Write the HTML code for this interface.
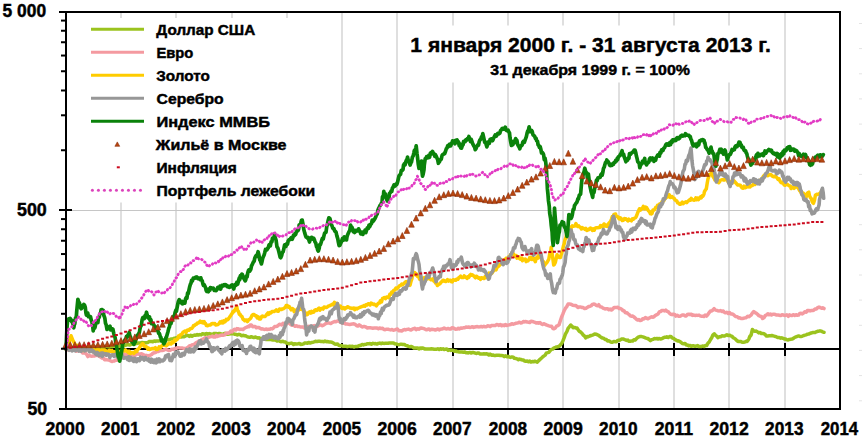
<!DOCTYPE html>
<html><head><meta charset="utf-8"><title>chart</title>
<style>html,body{margin:0;padding:0;background:#fff;width:862px;height:439px;overflow:hidden}svg{display:block}</style>
</head><body><svg width="862" height="439" viewBox="0 0 862 439"><rect x="0" y="0" width="862" height="439" fill="#fff"/><line x1="121.00" y1="12" x2="121.00" y2="408" stroke="#DFDFDF" stroke-width="2"/><line x1="176.00" y1="12" x2="176.00" y2="408" stroke="#DFDFDF" stroke-width="2"/><line x1="232.00" y1="12" x2="232.00" y2="408" stroke="#DFDFDF" stroke-width="2"/><line x1="287.00" y1="12" x2="287.00" y2="408" stroke="#DFDFDF" stroke-width="2"/><line x1="342.00" y1="12" x2="342.00" y2="408" stroke="#DFDFDF" stroke-width="2"/><line x1="397.00" y1="12" x2="397.00" y2="408" stroke="#DFDFDF" stroke-width="2"/><line x1="453.00" y1="12" x2="453.00" y2="408" stroke="#DFDFDF" stroke-width="2"/><line x1="508.00" y1="12" x2="508.00" y2="408" stroke="#DFDFDF" stroke-width="2"/><line x1="563.00" y1="12" x2="563.00" y2="408" stroke="#DFDFDF" stroke-width="2"/><line x1="619.00" y1="12" x2="619.00" y2="408" stroke="#DFDFDF" stroke-width="2"/><line x1="674.00" y1="12" x2="674.00" y2="408" stroke="#DFDFDF" stroke-width="2"/><line x1="729.00" y1="12" x2="729.00" y2="408" stroke="#DFDFDF" stroke-width="2"/><line x1="785.00" y1="12" x2="785.00" y2="408" stroke="#DFDFDF" stroke-width="2"/><line x1="66" y1="210.5" x2="840" y2="210.5" stroke="#C6C6C6" stroke-width="1"/><rect x="70" y="18" width="262" height="184.5" fill="#fff"/><rect x="400" y="25.5" width="380" height="57" fill="#fff"/><line x1="66" y1="349.00" x2="840" y2="349.00" stroke="#000" stroke-width="2"/><line x1="121.00" y1="343.00" x2="121.00" y2="356.00" stroke="#000" stroke-width="2"/><line x1="176.00" y1="343.00" x2="176.00" y2="356.00" stroke="#000" stroke-width="2"/><line x1="232.00" y1="343.00" x2="232.00" y2="356.00" stroke="#000" stroke-width="2"/><line x1="287.00" y1="343.00" x2="287.00" y2="356.00" stroke="#000" stroke-width="2"/><line x1="342.00" y1="343.00" x2="342.00" y2="356.00" stroke="#000" stroke-width="2"/><line x1="397.00" y1="343.00" x2="397.00" y2="356.00" stroke="#000" stroke-width="2"/><line x1="453.00" y1="343.00" x2="453.00" y2="356.00" stroke="#000" stroke-width="2"/><line x1="508.00" y1="343.00" x2="508.00" y2="356.00" stroke="#000" stroke-width="2"/><line x1="563.00" y1="343.00" x2="563.00" y2="356.00" stroke="#000" stroke-width="2"/><line x1="619.00" y1="343.00" x2="619.00" y2="356.00" stroke="#000" stroke-width="2"/><line x1="674.00" y1="343.00" x2="674.00" y2="356.00" stroke="#000" stroke-width="2"/><line x1="729.00" y1="343.00" x2="729.00" y2="356.00" stroke="#000" stroke-width="2"/><line x1="785.00" y1="343.00" x2="785.00" y2="356.00" stroke="#000" stroke-width="2"/><polyline fill="none" stroke="#9BC31E" stroke-width="3.5" stroke-linejoin="round" stroke-linecap="round"  points="66.0,349.0 67.3,349.3 68.9,348.5 70.2,348.6 71.6,348.9 72.9,347.9 74.5,348.3 75.9,347.7 77.2,348.5 78.5,348.6 80.1,347.4 81.2,348.0 82.8,347.7 83.9,347.7 85.2,347.4 86.6,347.7 87.9,347.3 89.2,347.5 90.6,346.9 92.1,347.5 93.4,347.0 94.8,347.7 95.9,347.0 97.4,347.4 98.8,347.0 100.1,347.2 101.3,347.0 102.8,347.3 104.0,346.9 105.2,346.4 106.8,346.6 107.9,346.7 109.4,346.7 110.6,346.4 112.0,346.7 113.3,346.2 114.7,345.7 115.9,346.4 117.5,346.2 118.6,345.7 120.0,346.6 121.4,345.8 122.7,345.3 123.9,345.9 125.3,345.2 126.5,345.1 128.0,344.2 129.3,345.0 130.6,344.7 131.9,344.2 133.2,343.9 134.3,344.2 135.8,343.2 137.1,343.4 138.3,343.0 139.7,343.1 141.1,342.8 142.2,342.4 143.6,342.7 145.1,342.8 146.4,342.7 147.6,342.6 149.0,341.6 150.2,341.4 151.7,341.5 152.8,341.8 154.2,341.0 155.5,341.4 156.8,340.9 158.3,340.9 159.5,340.8 160.7,340.5 162.1,340.0 163.3,340.7 164.8,339.7 166.1,340.2 167.2,339.0 168.6,339.7 169.9,339.4 171.4,338.9 172.7,339.1 174.2,338.2 175.4,338.0 176.8,337.6 178.2,337.3 179.5,336.6 181.1,337.0 182.3,336.8 183.7,336.8 185.2,336.1 186.4,335.5 187.9,335.4 189.3,336.4 190.6,335.3 192.0,336.2 193.3,335.4 194.5,335.1 195.8,335.3 197.2,334.6 198.4,335.0 199.8,334.6 201.1,334.9 202.6,333.7 203.8,333.9 205.3,334.3 206.5,333.5 207.9,334.2 209.3,333.6 210.6,334.0 211.8,334.4 213.0,334.1 214.3,333.4 215.9,333.5 217.1,333.9 218.5,333.6 219.6,333.5 221.1,333.9 222.5,334.3 223.6,333.9 225.0,333.2 226.4,334.2 228.0,334.2 229.2,333.9 230.7,333.7 232.0,333.5 233.2,333.7 234.9,334.3 236.3,334.4 237.4,335.0 239.0,334.3 240.3,334.7 241.5,335.8 242.9,335.3 244.5,335.7 245.6,335.7 247.0,336.6 248.3,337.0 249.8,337.3 251.3,336.7 252.5,337.1 253.8,337.6 255.1,337.0 256.8,337.6 258.0,338.0 259.3,337.8 260.8,339.1 262.2,338.3 263.4,339.1 264.9,339.3 266.2,339.5 267.5,339.5 268.9,339.3 270.2,339.4 271.8,339.8 273.1,340.1 274.6,339.9 275.7,340.0 277.1,341.0 278.6,340.6 279.8,341.3 281.3,341.7 282.5,341.3 283.9,341.7 285.4,342.0 286.6,343.1 287.8,343.4 288.9,343.7 290.0,343.4 291.3,343.1 292.4,343.4 293.5,344.5 294.7,343.7 295.6,344.1 297.0,343.9 298.1,343.8 299.4,343.5 300.6,344.4 302.1,344.3 303.4,343.9 304.7,343.1 305.9,342.9 307.4,343.3 308.6,342.4 310.2,343.1 311.4,342.5 312.9,342.2 314.1,341.9 315.5,341.3 316.9,341.6 318.3,341.2 319.6,341.3 320.9,341.4 322.5,341.6 323.7,341.8 325.0,341.1 326.5,341.7 327.9,341.6 329.3,342.0 330.5,342.1 331.9,342.3 333.3,343.1 334.8,344.0 336.0,344.2 337.3,343.9 338.8,345.3 340.0,345.7 341.6,345.6 342.9,346.3 344.2,346.3 345.7,346.2 347.1,346.7 348.5,346.4 349.6,346.2 351.0,346.7 352.5,346.2 353.9,347.1 355.1,346.5 356.4,346.4 357.7,346.4 359.3,345.6 360.5,345.6 362.1,344.4 363.4,344.9 364.7,344.4 366.0,344.3 367.5,343.7 368.8,343.7 370.0,343.6 371.4,344.3 373.0,343.3 374.3,343.7 375.5,343.6 376.9,344.1 378.3,343.4 379.7,343.1 381.2,343.7 382.6,343.1 383.8,343.4 385.2,343.3 386.5,343.3 388.1,343.3 389.5,342.9 390.7,343.1 392.1,343.0 393.4,342.9 394.7,343.8 396.1,343.9 397.5,344.4 399.0,344.7 400.2,344.3 401.7,344.3 403.0,344.6 404.4,344.5 405.7,345.4 407.0,345.7 408.5,346.4 409.8,346.7 411.1,346.5 412.3,346.9 413.9,348.0 415.3,347.9 416.5,348.0 417.7,348.0 418.9,348.9 419.9,348.0 421.3,348.5 422.5,347.9 423.8,348.5 425.1,349.0 426.4,348.9 427.8,349.0 429.0,349.0 430.3,349.0 431.6,348.7 432.8,349.1 434.2,349.3 435.4,349.3 436.7,349.2 437.8,348.8 439.2,349.6 440.4,348.8 441.8,349.2 443.0,348.8 444.2,349.6 445.5,349.2 446.8,349.0 448.1,350.4 449.4,349.9 450.7,350.4 451.8,350.1 453.3,350.4 454.3,351.3 455.7,350.9 457.0,351.6 458.2,351.7 459.6,352.0 460.8,351.9 462.0,351.9 463.3,352.3 464.8,351.9 465.8,352.8 467.3,352.8 468.3,352.9 469.8,352.4 471.0,353.0 472.4,352.5 473.6,352.6 475.0,353.0 476.2,353.5 477.4,353.1 478.7,353.0 479.9,353.9 481.2,354.0 482.4,354.1 483.9,353.8 485.0,354.0 486.4,353.8 487.5,353.9 488.9,355.0 490.1,354.1 491.5,355.2 492.9,355.0 494.0,355.4 495.2,355.4 496.5,355.2 497.9,355.3 499.0,355.2 500.5,355.6 501.7,355.5 503.0,355.7 504.2,356.6 505.6,355.7 506.8,356.8 508.0,356.3 509.3,357.1 510.5,357.4 511.9,356.9 513.3,357.2 514.3,358.3 515.6,358.4 516.9,358.8 518.4,359.7 519.4,359.1 520.9,359.5 522.0,359.9 523.3,360.0 524.7,361.0 526.0,361.3 527.2,360.9 528.5,361.8 529.8,361.1 530.9,362.1 532.3,361.5 533.6,361.8 534.9,361.2 536.1,361.6 537.3,362.2 538.7,360.6 540.0,359.4 541.3,358.2 542.4,357.2 543.7,356.1 545.2,355.1 546.2,353.2 547.7,352.7 548.8,352.3 550.0,350.8 551.4,349.4 552.7,349.1 554.1,347.8 555.3,347.4 556.6,346.9 557.7,346.8 559.2,346.2 560.3,345.1 561.7,343.4 562.8,341.2 564.1,337.9 565.4,334.2 566.9,331.5 568.1,328.4 569.4,326.7 570.7,325.0 572.0,326.2 573.1,327.7 574.5,327.4 575.6,327.9 577.0,328.0 578.2,329.9 579.4,331.4 580.8,332.1 582.0,333.4 583.3,335.1 584.6,336.2 585.8,337.9 587.1,336.6 588.3,336.7 589.7,336.0 591.1,335.5 592.4,335.1 593.7,334.6 594.7,334.0 596.1,334.2 597.5,334.8 598.7,335.3 600.1,336.6 601.2,337.4 602.6,338.1 603.7,338.3 605.1,339.4 606.4,339.6 607.5,340.9 608.7,340.8 610.1,341.6 611.3,342.2 612.7,342.2 613.8,341.4 615.3,341.8 616.4,341.7 617.6,340.5 619.2,340.3 620.3,339.8 621.6,339.1 623.0,338.9 624.2,339.4 625.6,340.0 626.8,340.4 627.9,340.1 628.8,341.2 630.1,341.3 631.3,340.9 632.7,341.0 633.9,339.8 635.2,340.0 636.3,338.8 637.7,337.5 638.8,336.9 640.3,336.5 641.6,336.6 642.8,336.9 644.0,337.2 645.4,337.9 646.5,338.2 647.8,338.5 649.1,339.5 650.4,340.6 651.6,339.7 653.1,339.4 654.2,338.5 655.5,338.7 656.9,338.5 658.2,339.0 659.4,338.4 660.6,339.1 661.8,338.7 663.1,337.9 664.4,337.3 665.7,337.3 666.8,336.8 668.2,337.5 669.6,336.6 670.9,336.4 672.1,337.8 673.4,338.3 674.7,339.2 676.0,340.0 677.3,340.9 678.3,340.8 679.9,341.6 680.9,342.2 682.3,343.5 683.6,343.7 685.0,343.4 686.2,344.9 687.5,344.9 688.7,345.9 690.2,345.4 691.3,346.3 692.6,345.8 693.8,345.8 695.1,346.3 696.5,346.1 697.7,345.6 698.9,346.6 700.2,346.6 701.6,346.4 702.9,346.0 704.0,346.5 705.2,345.6 706.6,345.6 708.0,343.1 709.1,342.2 710.4,339.7 711.7,337.7 712.9,335.1 714.3,333.8 715.6,335.4 716.7,336.2 718.1,337.7 719.5,336.7 720.6,336.8 721.9,335.8 723.1,335.9 724.5,336.1 725.7,335.4 726.9,334.8 728.2,335.5 729.5,335.2 730.8,335.8 732.1,336.3 733.3,337.8 734.7,338.5 735.8,339.4 737.3,340.9 738.6,341.6 739.7,341.6 741.0,341.6 742.2,342.2 743.5,342.2 744.9,342.0 746.2,341.3 747.3,341.4 748.8,339.1 749.8,336.5 751.1,335.0 752.4,329.5 753.8,331.0 755.0,331.2 756.3,331.1 757.5,331.9 758.8,332.9 760.2,332.4 761.3,333.5 762.6,333.4 763.9,333.7 765.1,334.5 766.5,336.1 767.8,335.9 769.1,335.8 770.4,335.7 771.8,335.6 773.0,335.8 774.3,336.2 775.6,336.4 776.8,337.1 778.0,337.5 779.3,337.6 780.7,338.2 781.8,337.8 783.1,338.3 784.3,338.9 785.7,339.1 786.9,339.7 788.2,339.9 789.4,339.4 790.8,339.2 792.0,339.1 793.4,338.4 794.5,337.5 796.0,336.8 797.3,336.3 798.6,335.9 799.9,336.5 801.0,336.4 802.2,336.2 803.6,335.5 804.8,335.2 806.1,334.8 807.5,334.2 808.6,334.1 810.1,333.4 811.2,333.0 812.6,332.6 813.9,332.4 815.1,332.5 816.3,331.8 817.5,331.3 818.8,331.2 820.0,330.8 821.3,331.2 822.7,331.8 824.0,332.3"/><polyline fill="none" stroke="#F49AA0" stroke-width="3.5" stroke-linejoin="round" stroke-linecap="round"  points="66.0,349.0 67.4,349.9 68.4,348.6 70.0,349.8 71.2,349.3 72.5,349.9 73.7,349.3 75.0,349.8 76.4,351.2 77.7,350.8 78.8,350.7 80.0,350.7 81.4,351.6 82.7,352.9 84.0,352.7 85.2,352.9 86.5,354.2 87.9,356.6 89.2,355.2 90.6,356.1 91.8,356.2 93.1,355.9 94.3,356.1 95.8,354.7 97.0,355.4 98.2,355.0 99.5,356.5 100.8,357.1 102.0,358.0 103.4,358.1 104.6,359.7 105.9,359.5 107.1,359.7 108.5,359.9 109.8,360.5 111.1,361.1 112.3,361.5 113.4,361.0 114.6,360.9 115.7,360.1 117.1,360.2 118.5,357.8 119.8,357.8 121.2,355.8 122.5,354.6 123.7,353.8 125.0,354.9 126.2,354.5 127.8,354.2 128.9,355.3 130.3,355.2 131.6,354.8 132.9,355.1 134.2,355.5 135.6,355.0 136.9,354.1 138.5,353.8 139.6,354.5 141.0,353.7 142.5,354.2 143.5,354.8 145.0,355.7 146.2,355.3 147.5,355.7 149.0,355.7 150.4,355.1 151.7,354.5 152.9,353.2 154.3,352.8 155.5,352.5 157.0,351.6 158.3,351.6 159.6,350.8 161.1,350.6 162.3,350.5 163.5,350.3 164.8,349.4 166.1,349.4 167.5,350.0 168.9,350.4 170.4,350.3 171.5,349.3 172.7,349.3 173.9,349.5 175.1,348.4 176.1,348.6 177.2,347.7 178.5,347.8 179.8,348.0 180.8,347.9 182.1,347.9 183.4,348.3 184.5,348.6 185.7,348.6 187.2,347.8 188.2,347.0 189.5,345.8 190.7,346.1 191.8,345.0 193.2,344.6 194.3,344.7 195.6,343.0 196.9,342.3 197.8,342.1 199.1,340.7 200.5,340.7 201.5,339.7 202.8,339.2 204.0,338.7 205.2,337.7 206.5,338.1 207.6,337.7 208.8,337.2 210.1,336.9 211.4,336.6 212.5,336.0 213.7,337.1 215.0,337.1 216.3,335.4 217.4,336.5 218.7,335.9 219.8,335.7 221.1,335.2 222.2,335.1 223.6,335.2 224.8,334.8 225.9,333.4 227.2,333.0 228.4,333.2 229.7,332.4 230.9,331.0 232.0,331.8 233.2,330.3 234.4,329.2 235.8,330.0 237.0,328.6 238.1,328.8 239.4,329.5 240.5,329.2 241.7,329.3 243.1,329.6 244.1,328.6 245.5,327.6 246.7,327.3 247.9,326.6 249.1,326.7 250.2,325.0 251.4,325.1 252.7,326.8 253.8,326.5 255.1,326.6 256.3,327.8 257.6,327.4 258.9,327.4 260.0,328.3 261.2,328.9 262.3,328.8 263.6,329.2 264.9,329.4 265.9,329.0 267.3,329.5 268.5,329.3 269.5,329.3 271.0,328.6 272.2,328.9 273.2,328.2 274.6,326.6 275.8,326.6 276.9,326.4 278.1,325.5 279.4,324.3 280.7,324.4 281.8,325.0 283.0,323.3 284.4,324.4 285.7,324.1 286.9,323.8 288.2,322.9 289.6,323.1 290.8,324.7 292.2,325.3 293.8,325.2 295.1,326.3 296.5,325.8 297.7,326.4 299.1,326.4 300.4,327.0 302.0,326.9 303.2,327.0 304.6,328.0 305.9,327.5 307.3,327.1 308.8,326.2 310.2,326.4 311.5,327.0 312.8,326.2 314.3,325.6 315.6,325.9 316.9,326.4 318.4,325.9 319.6,325.1 321.0,324.9 322.3,325.7 323.6,325.1 325.1,324.1 326.4,323.3 327.8,323.1 329.2,323.0 330.7,323.6 331.9,322.8 333.4,322.0 334.5,321.5 335.9,321.8 337.4,321.0 338.9,321.1 340.2,322.1 341.5,322.8 342.8,323.2 344.4,323.0 345.7,324.0 347.0,323.9 348.4,324.3 349.8,324.6 351.0,324.2 352.5,323.9 353.8,323.8 355.3,324.4 356.5,325.6 357.8,326.1 359.2,324.9 360.6,325.8 362.1,327.0 363.4,326.6 364.7,326.6 366.2,327.2 367.4,328.0 368.7,327.8 370.3,327.8 371.5,327.9 372.9,328.3 374.2,328.1 375.6,328.0 377.1,328.1 378.4,328.8 379.6,328.0 381.2,328.6 382.6,328.3 383.9,329.6 385.2,329.7 386.6,329.2 388.1,329.2 389.3,329.6 390.6,329.9 392.1,329.5 393.4,330.2 394.9,329.9 396.2,329.4 397.5,329.0 398.8,330.7 400.2,330.8 401.7,331.0 402.9,330.2 404.4,329.5 405.6,329.9 407.0,329.4 408.5,329.1 409.9,329.8 411.0,330.0 412.3,329.2 413.7,328.6 414.9,328.3 416.1,329.6 417.6,328.8 418.8,329.2 419.9,328.5 421.2,328.0 422.4,328.3 423.7,328.4 425.1,329.2 426.5,329.8 427.7,329.3 429.1,328.9 430.1,330.0 431.6,329.2 432.8,329.5 434.0,329.6 435.3,330.0 436.7,329.5 437.9,328.9 439.2,329.9 440.3,329.3 441.7,329.1 442.8,328.8 444.1,328.1 445.5,328.7 446.8,328.9 448.1,328.5 449.2,328.9 450.7,329.0 451.9,327.8 453.1,327.9 454.5,328.6 455.6,329.2 457.2,329.1 458.3,328.2 459.5,328.9 460.9,327.9 462.2,328.2 463.4,327.8 464.7,327.8 466.0,327.1 467.3,327.2 468.6,327.0 469.7,327.4 471.0,327.2 472.4,326.7 473.6,327.4 474.9,327.0 476.1,326.8 477.4,326.6 478.6,326.9 479.9,326.8 481.3,326.5 482.4,326.9 483.9,326.3 485.1,326.8 486.5,326.7 487.6,325.8 489.0,325.9 490.1,326.6 491.4,325.6 492.7,325.4 494.1,325.4 495.3,325.4 496.7,324.6 497.9,324.7 499.0,325.4 500.4,324.5 501.7,325.8 503.0,325.0 504.3,325.6 505.4,324.6 506.9,325.5 507.9,325.1 509.4,324.8 510.6,324.5 511.8,323.7 513.0,324.2 514.3,323.9 515.7,323.3 517.1,323.0 518.3,322.7 519.5,322.2 520.8,322.9 522.0,322.8 523.4,321.4 524.7,321.9 525.9,321.5 527.2,322.1 528.6,322.2 529.8,322.5 531.0,321.3 532.3,321.5 533.5,321.8 534.9,322.3 536.2,323.1 537.3,322.7 538.6,323.2 540.0,322.6 541.2,323.7 542.5,324.4 543.7,323.7 545.2,324.3 546.2,324.9 547.6,325.4 548.9,325.9 550.3,326.2 551.6,326.2 552.7,328.3 553.9,328.8 555.4,327.9 556.7,325.9 557.8,325.8 559.1,324.6 560.5,320.3 561.5,317.2 563.0,313.7 564.2,310.6 565.6,308.0 566.6,306.9 568.1,304.0 569.4,303.9 570.6,304.2 571.7,304.7 573.0,305.3 574.4,305.5 575.7,305.4 576.9,306.5 578.2,307.5 579.4,306.9 580.8,307.0 582.2,307.6 583.3,307.6 584.6,308.6 586.0,308.3 587.1,307.6 588.4,306.6 589.6,306.5 591.2,305.7 592.3,304.5 593.6,304.1 594.9,304.2 596.1,305.3 597.6,305.7 598.7,304.7 599.9,306.7 601.4,306.9 602.5,307.7 603.7,308.4 605.0,308.9 606.3,308.8 607.6,308.8 608.9,309.7 610.2,309.1 611.4,310.0 612.7,309.0 614.1,307.5 615.3,307.6 616.5,307.5 617.9,307.3 619.1,308.5 620.4,308.5 621.7,309.2 622.8,310.5 624.2,311.0 625.4,312.7 626.8,312.7 628.1,313.8 629.3,314.7 630.5,315.9 631.7,316.3 632.8,316.0 633.9,316.9 635.2,318.1 636.4,319.3 637.6,320.1 638.9,319.5 640.2,320.6 641.6,320.1 642.6,318.8 643.9,318.9 645.4,317.6 646.5,318.1 648.0,318.8 649.2,318.1 650.4,317.4 651.7,316.7 652.9,317.3 654.2,316.6 655.5,315.3 656.8,314.7 658.0,314.0 659.5,311.7 660.5,311.6 661.9,310.5 663.2,310.4 664.5,310.9 665.7,310.1 666.9,311.3 668.2,311.6 669.4,313.2 670.9,314.3 672.1,314.7 673.2,314.2 674.7,314.4 675.8,316.1 677.1,315.2 678.4,316.2 679.6,316.3 680.9,315.8 682.3,315.0 683.7,314.9 685.0,315.9 686.2,315.9 687.3,314.5 688.7,314.2 690.1,314.7 691.4,314.2 692.4,315.4 693.8,315.0 695.0,315.5 696.4,315.2 697.5,315.4 699.0,315.1 700.1,315.9 701.5,316.2 702.8,316.3 703.9,316.4 705.2,315.1 706.5,316.1 707.9,314.5 709.2,312.6 710.4,311.0 711.8,311.0 712.8,310.1 714.1,308.6 715.5,310.1 716.9,310.4 717.9,310.7 719.4,310.9 720.6,310.6 721.7,311.5 723.3,311.0 724.5,312.5 725.6,312.8 726.8,312.2 728.2,313.5 729.5,312.5 730.9,313.9 732.1,314.0 733.3,314.4 734.5,315.6 735.8,316.6 737.3,316.7 738.6,317.9 739.7,317.8 741.1,318.6 742.2,318.6 743.6,318.2 745.0,317.9 746.1,317.7 747.6,316.3 748.8,316.7 749.9,316.0 751.3,314.8 752.5,312.9 753.8,311.5 755.1,312.6 756.2,313.2 757.6,314.3 758.9,315.7 760.1,316.2 761.4,316.5 762.6,318.5 764.1,317.5 765.2,315.6 766.4,315.0 767.8,313.7 769.1,314.8 770.5,314.0 771.5,315.0 772.9,314.2 774.1,314.3 775.4,314.5 776.6,315.1 778.1,314.9 779.2,315.2 780.7,315.6 782.0,314.7 783.2,314.9 784.4,315.4 785.7,315.2 786.8,314.8 788.3,316.3 789.5,314.9 790.9,315.5 792.0,315.5 793.2,314.7 794.7,315.4 796.0,314.7 797.3,315.3 798.5,315.1 799.7,313.5 801.1,313.3 802.3,313.9 803.7,312.8 805.0,311.7 806.2,312.3 807.4,310.6 808.8,310.5 810.1,310.9 811.4,310.5 812.6,310.5 813.7,310.2 815.0,309.1 816.4,308.9 817.7,307.6 819.0,307.1 820.1,307.5 821.6,308.3 822.7,307.8 824.0,308.6"/><polyline fill="none" stroke="#FFCC00" stroke-width="3.5" stroke-linejoin="round" stroke-linecap="round"  points="66.0,349.0 66.9,347.1 68.0,345.3 69.1,341.0 69.9,340.2 71.0,335.8 72.3,338.9 73.3,341.3 74.3,342.9 75.3,345.6 76.2,346.2 77.2,345.3 78.2,347.5 79.0,346.9 80.1,348.9 81.1,350.1 82.1,350.3 83.0,350.1 84.0,350.5 85.1,348.5 85.9,348.9 87.1,349.5 88.0,349.3 89.0,349.6 90.0,350.2 91.0,351.2 92.1,351.3 93.1,351.6 94.1,349.5 95.1,351.7 96.1,350.8 97.1,349.9 98.1,351.0 98.9,349.8 100.1,352.3 100.9,351.8 102.0,350.2 102.9,351.8 104.1,350.0 105.0,350.1 106.1,350.9 107.1,352.6 108.0,352.7 108.9,350.4 110.0,350.3 110.9,351.3 112.0,350.7 112.9,352.6 113.9,352.9 115.1,351.5 116.0,351.9 117.0,352.2 118.0,352.3 119.1,351.8 119.9,352.0 120.8,350.7 121.9,351.0 122.8,349.4 123.7,350.6 124.5,351.0 125.6,349.9 126.5,351.3 127.5,351.3 128.4,352.6 129.2,351.2 130.3,353.7 131.1,352.5 132.1,352.4 132.9,352.5 133.9,353.4 134.8,352.1 135.9,350.5 136.7,351.6 137.6,349.5 138.7,348.8 139.4,347.9 140.5,345.7 141.3,344.9 142.4,343.7 143.3,344.0 144.1,346.1 145.2,346.5 145.9,346.6 146.9,347.2 147.9,349.2 148.7,348.2 149.8,349.5 150.7,349.1 151.4,348.8 152.6,348.5 153.4,348.7 154.3,348.5 155.4,347.7 156.1,349.5 157.3,349.4 158.1,349.0 159.1,346.9 160.0,348.1 160.9,346.9 161.7,346.1 162.6,345.0 163.6,345.2 164.6,344.2 165.6,345.5 166.5,345.7 167.4,344.5 168.1,344.5 169.0,343.0 170.1,343.2 171.0,344.0 172.0,342.0 172.8,343.0 173.8,342.1 174.7,339.8 175.7,340.6 176.5,339.8 177.6,339.1 178.5,336.1 179.4,337.4 180.1,334.9 181.1,334.7 182.1,333.9 183.1,332.1 183.9,331.8 184.8,331.0 186.0,332.4 186.7,330.9 187.8,329.9 188.8,330.2 189.9,329.0 190.8,328.4 191.8,328.4 192.9,327.0 193.6,325.4 194.7,325.5 195.7,324.2 196.6,324.2 197.4,322.9 198.3,323.1 199.2,322.4 200.1,321.2 201.1,322.4 202.0,321.6 203.0,322.8 204.1,321.5 205.0,323.5 205.6,323.6 206.4,325.5 207.6,325.7 208.7,325.1 209.7,324.9 210.6,324.9 211.6,323.8 212.8,323.5 213.7,323.7 214.9,323.6 215.7,325.0 216.8,324.8 218.0,324.5 219.1,323.5 220.1,321.9 221.1,322.8 222.1,321.3 223.2,322.9 224.0,320.8 225.2,321.6 226.2,319.4 227.3,320.0 228.5,318.9 229.3,317.6 230.2,316.2 231.0,315.1 232.1,313.5 233.0,311.5 233.9,311.8 234.8,309.9 235.7,309.0 236.7,306.4 237.4,310.1 238.5,311.6 239.3,314.3 240.1,314.2 241.1,316.2 242.0,316.5 243.1,319.5 243.8,319.6 244.8,320.7 245.7,319.9 246.5,319.9 247.5,321.6 248.5,319.9 249.6,319.3 250.7,318.3 251.9,315.6 253.0,314.6 254.2,314.6 255.1,315.8 256.3,315.7 257.3,318.0 258.3,316.8 259.3,318.9 260.5,318.9 261.7,316.5 262.5,316.0 263.6,316.6 264.9,316.5 265.8,315.9 266.8,314.3 268.0,312.9 268.8,314.3 270.0,312.6 271.1,312.9 272.0,311.5 273.1,311.6 274.1,311.6 275.4,310.8 276.3,309.8 277.2,311.0 278.2,311.3 279.5,309.0 280.5,309.2 281.4,309.6 282.3,308.9 283.3,308.7 284.2,308.1 285.4,307.4 286.2,305.4 287.2,305.5 288.3,307.1 289.2,306.5 290.3,308.4 291.2,309.8 292.3,308.6 293.4,309.3 294.2,311.6 295.4,310.8 296.4,310.2 297.3,309.1 298.3,310.2 299.5,309.4 300.6,308.5 301.4,309.4 302.6,309.4 303.6,310.8 304.6,311.9 305.5,312.9 306.6,314.7 307.6,314.5 308.5,312.7 309.6,311.9 310.8,313.1 311.6,311.3 312.7,312.4 313.9,312.0 314.8,310.1 315.8,309.8 316.9,310.4 317.8,309.2 319.0,308.2 320.0,310.1 321.1,308.4 322.0,308.5 323.0,309.1 324.1,307.0 325.2,307.2 326.1,307.5 327.0,307.3 328.2,306.2 329.2,305.8 330.1,305.5 331.1,304.9 332.3,304.2 333.3,305.0 334.4,302.4 335.4,303.1 336.2,303.3 337.3,303.4 338.4,306.5 339.4,307.2 340.5,306.1 341.6,308.2 342.7,308.5 343.6,307.5 344.7,309.0 345.7,307.7 346.7,307.9 347.5,306.7 348.5,307.1 349.6,307.9 350.8,308.1 351.7,308.5 352.7,308.2 353.9,308.1 354.7,309.6 355.9,308.3 356.8,308.9 357.9,308.2 358.8,307.8 360.0,307.2 360.9,307.0 361.9,306.5 362.9,306.2 363.8,305.6 364.9,306.2 365.9,304.7 367.0,305.1 368.2,303.7 369.1,304.1 370.1,305.0 371.1,303.1 372.2,303.6 373.3,304.5 374.2,304.0 375.4,305.0 376.4,305.8 377.5,304.3 378.3,303.2 379.5,303.1 380.4,300.7 381.5,302.0 382.5,298.4 383.4,298.1 384.4,297.5 385.4,298.6 386.7,296.9 387.7,297.1 388.7,297.7 389.8,294.2 390.6,294.5 391.8,292.0 392.7,292.8 393.7,290.4 394.8,290.0 395.9,288.0 396.9,288.7 398.0,287.6 399.0,286.4 399.9,285.4 401.0,285.3 401.8,284.0 403.0,284.6 404.0,283.6 405.0,282.4 406.0,281.6 407.0,283.0 408.1,281.9 408.9,284.5 410.0,285.3 411.0,281.3 411.8,279.2 412.5,275.4 413.3,272.6 414.4,272.4 415.1,273.0 415.8,275.0 416.7,274.0 417.6,276.5 418.7,275.8 419.5,279.2 420.4,279.0 421.4,280.5 422.4,280.2 423.4,278.3 424.2,277.7 425.4,277.5 426.1,279.4 427.1,278.9 428.1,277.4 429.0,278.8 430.1,278.8 431.0,279.8 431.8,279.6 432.8,278.8 433.8,281.2 434.7,281.3 435.5,283.1 436.5,283.3 437.3,285.5 438.1,284.9 439.2,283.9 440.1,283.7 440.9,282.3 442.0,281.6 442.8,280.5 443.7,280.2 444.8,281.3 445.7,281.5 446.5,280.9 447.5,279.7 448.6,281.2 449.5,280.2 450.5,280.2 451.5,281.7 452.3,281.9 453.2,279.8 454.3,279.9 455.1,280.3 455.9,280.2 456.9,278.9 457.9,279.2 458.9,277.6 459.6,277.2 460.6,276.1 461.4,277.4 462.5,277.5 463.5,277.5 464.2,275.9 465.1,276.9 466.1,277.4 467.0,278.4 467.8,276.9 468.9,277.4 469.6,275.5 470.7,274.4 471.4,275.3 472.4,274.8 473.2,275.4 474.3,276.5 475.3,277.8 476.2,276.3 476.9,276.5 477.9,277.5 478.7,278.3 479.6,277.9 480.5,279.4 481.5,277.8 482.3,278.0 483.4,278.4 484.4,278.5 485.1,276.6 486.2,277.5 487.1,276.8 488.1,274.6 489.0,273.1 490.1,274.6 491.2,272.7 492.0,273.1 493.1,271.4 494.0,270.3 494.9,268.6 496.1,269.8 497.0,267.4 498.0,266.6 499.1,265.8 500.1,264.1 500.9,264.1 502.0,263.9 503.1,263.1 504.0,259.8 505.0,260.1 506.0,258.4 507.1,259.1 507.8,257.7 508.8,256.6 509.9,257.0 510.8,254.3 511.8,253.5 512.6,254.5 513.4,253.7 514.5,256.1 515.2,255.4 516.1,255.4 517.0,258.2 517.9,256.8 518.8,256.8 519.9,259.0 520.9,259.2 521.8,258.0 522.5,260.7 523.4,259.1 524.4,259.4 525.3,259.0 526.1,261.6 527.0,261.0 527.9,260.8 529.0,259.4 529.8,257.4 530.9,257.3 531.6,259.4 532.7,257.8 533.6,259.6 534.4,258.9 535.3,261.7 536.2,258.3 537.0,257.1 538.0,258.1 538.9,255.0 540.0,256.0 541.0,256.1 541.7,260.0 542.7,261.3 543.5,261.6 544.5,265.5 545.4,264.2 546.2,263.3 547.0,262.4 548.0,260.7 548.8,259.2 549.7,253.9 550.6,252.2 551.2,247.3 552.0,252.8 553.0,259.8 553.7,265.1 554.3,264.5 555.4,262.2 556.2,258.4 557.1,254.7 557.9,256.2 558.6,257.2 559.5,257.5 560.4,257.6 561.4,253.9 562.5,250.3 563.5,245.6 564.1,244.1 564.9,240.0 565.9,237.8 566.8,233.7 567.6,235.9 568.6,236.1 569.5,238.6 570.6,232.1 571.4,226.8 572.2,225.8 573.3,226.3 574.0,226.0 575.0,225.9 576.0,223.5 576.9,225.9 577.8,226.5 578.8,225.9 579.5,226.9 580.5,227.3 581.5,229.0 582.4,227.6 583.2,228.6 584.2,228.5 585.0,229.4 585.9,228.4 586.9,230.5 587.8,229.8 588.8,229.8 589.7,228.5 590.6,228.0 591.6,228.9 592.4,230.4 593.2,228.9 594.3,230.2 595.0,228.2 596.0,227.7 597.0,227.7 597.7,227.8 598.7,227.4 599.7,227.6 600.5,225.6 601.6,226.7 602.3,225.6 603.4,226.6 604.1,224.0 605.1,225.1 606.2,226.1 606.9,225.1 607.9,226.3 608.7,223.4 609.6,222.5 610.5,221.6 611.5,219.1 612.3,216.6 613.2,217.1 613.9,214.5 614.8,214.3 615.6,214.0 616.3,216.6 617.1,216.5 618.1,216.9 619.0,218.9 619.9,219.1 620.6,217.9 621.5,219.1 622.3,220.6 623.3,220.4 624.4,218.6 625.3,219.3 626.0,218.8 626.9,219.8 627.9,221.0 628.9,219.2 629.7,220.3 630.5,220.2 631.4,220.8 632.4,218.9 633.3,219.3 634.3,218.3 635.3,217.8 636.1,216.8 636.8,215.2 637.7,212.6 638.6,210.8 639.5,208.7 640.5,210.1 641.4,208.7 642.2,208.8 643.3,206.4 644.1,208.6 644.9,208.9 645.7,207.1 646.7,207.8 647.6,209.6 648.3,210.6 649.5,211.6 650.3,213.7 651.2,213.9 652.1,213.4 652.9,210.1 654.0,210.0 654.7,209.5 655.8,207.2 656.8,207.3 657.6,205.2 658.3,205.5 659.5,204.0 660.3,203.9 661.1,203.3 662.1,201.6 662.9,201.1 663.8,200.6 664.7,198.8 665.6,198.2 666.7,196.7 667.4,197.0 668.4,196.4 669.3,194.7 670.3,197.5 671.3,197.1 672.1,196.6 672.9,197.9 674.0,198.1 675.0,200.0 675.7,200.3 676.8,201.0 677.6,202.8 678.4,203.0 679.6,204.2 680.4,204.3 681.1,203.5 682.3,202.0 683.1,203.7 683.9,203.0 684.8,202.5 685.7,201.9 686.7,202.6 687.7,201.4 688.6,200.8 689.5,199.8 690.4,200.2 691.2,198.4 692.1,199.5 693.0,199.8 694.0,200.3 695.0,199.7 695.8,197.9 696.7,199.7 697.7,198.0 698.4,199.7 699.5,198.1 700.5,196.9 701.3,197.9 702.2,195.8 702.9,196.2 703.9,194.2 704.5,191.5 705.6,189.8 706.3,188.9 707.2,183.3 708.0,178.8 708.7,176.9 709.5,174.4 710.5,174.3 711.4,172.9 712.3,175.2 713.2,176.9 714.1,178.1 714.9,180.0 716.0,180.3 716.8,181.1 717.7,181.5 718.8,182.7 719.8,181.4 720.5,180.1 721.5,179.9 722.5,179.5 723.5,180.1 724.4,180.1 725.4,179.0 726.2,177.8 727.3,179.8 728.1,181.9 729.2,182.0 730.1,181.6 731.2,181.4 731.9,183.3 732.8,181.7 733.8,180.7 734.9,181.8 735.6,182.6 736.5,183.8 737.7,185.0 738.4,185.0 739.4,185.1 740.3,185.3 741.2,186.7 742.1,187.9 743.1,188.2 744.1,186.2 745.2,187.7 746.2,187.4 747.1,186.0 748.2,186.9 749.2,185.4 750.0,186.9 751.2,185.7 752.2,185.6 753.1,184.8 754.1,183.2 755.0,184.5 756.0,183.3 757.0,182.5 758.1,183.0 759.2,181.8 760.0,181.0 761.0,179.5 762.1,179.2 763.0,176.8 764.0,175.5 765.1,174.5 766.2,175.3 767.1,174.9 768.0,175.7 769.2,174.7 770.2,174.5 771.0,174.7 772.0,175.9 773.1,176.5 774.0,176.8 775.1,176.1 776.1,177.0 777.0,177.8 778.1,179.4 779.1,178.9 780.1,181.3 781.1,182.6 781.9,182.9 783.2,182.1 784.1,185.1 785.1,185.2 786.3,184.4 787.1,184.2 788.3,185.1 789.2,185.8 790.4,186.0 791.1,188.5 792.2,187.7 793.5,187.1 794.2,188.3 795.3,186.2 796.5,185.9 797.5,187.4 798.4,188.3 799.5,190.4 800.5,191.4 801.3,193.2 802.4,193.9 803.3,193.1 804.1,194.1 805.0,196.8 806.1,197.3 806.9,194.1 807.8,192.8 808.8,192.2 809.5,195.8 810.4,197.6 811.3,198.7 812.3,202.0 813.5,203.3 814.5,200.2 815.4,195.2 816.6,194.3 817.7,194.4 818.5,194.1 819.5,193.7 820.7,192.3 821.7,190.8"/><polyline fill="none" stroke="#979797" stroke-width="3.6" stroke-linejoin="round" stroke-linecap="round"  points="66.0,349.0 66.7,347.5 67.5,347.8 68.2,348.7 69.2,350.3 69.9,348.1 70.6,348.3 71.2,347.7 72.0,350.9 73.0,350.4 73.7,348.1 74.3,349.8 75.2,350.7 76.0,347.8 76.7,350.1 77.4,348.3 78.1,348.1 79.0,351.1 79.6,349.0 80.4,350.1 81.2,351.2 81.8,349.7 82.6,349.8 83.2,349.4 84.1,348.5 84.7,350.8 85.5,350.5 86.4,349.8 87.3,349.4 87.9,349.5 88.8,349.8 89.5,351.7 90.3,351.1 91.2,349.4 91.8,350.0 92.8,351.8 93.4,351.0 94.2,351.8 94.9,353.0 96.0,354.3 96.7,354.7 97.3,352.4 98.4,354.6 99.0,355.6 99.8,355.4 100.5,353.2 101.4,353.1 102.2,356.4 102.9,353.0 103.7,353.7 104.7,354.6 105.3,353.8 106.3,355.2 106.9,354.0 107.7,354.5 108.6,354.4 109.1,355.6 109.9,357.4 110.5,355.6 111.4,355.0 112.2,355.2 112.7,354.8 113.3,354.8 114.1,356.5 115.1,355.1 115.6,354.3 116.5,354.3 117.3,356.9 118.1,354.0 119.1,356.0 119.9,355.6 120.7,356.7 121.4,357.1 122.1,354.8 122.8,357.9 123.8,358.2 124.5,357.5 125.4,357.7 126.2,357.6 126.9,358.5 127.6,359.7 128.6,356.8 129.4,360.5 130.2,357.3 130.9,357.8 131.7,360.0 132.1,358.3 133.0,360.0 133.7,361.5 134.3,358.2 135.2,358.4 135.9,359.0 136.6,361.7 137.3,360.5 138.0,358.9 138.7,359.2 139.5,360.6 140.0,359.4 140.6,357.2 141.5,358.7 142.3,358.9 142.8,357.7 143.8,358.6 144.3,360.1 145.4,357.5 146.1,358.9 146.9,359.0 147.5,359.9 148.6,358.8 149.1,361.1 150.0,360.7 150.6,362.1 151.4,359.2 152.2,359.8 152.7,362.3 153.4,362.3 154.1,362.6 154.8,360.0 155.6,360.8 156.3,362.8 157.1,359.2 157.7,361.0 158.4,361.5 159.2,358.9 159.8,361.7 160.5,361.2 161.4,360.5 162.1,360.2 162.7,360.9 163.4,360.5 164.1,359.9 164.9,358.5 165.5,356.2 166.3,356.6 167.0,355.3 167.6,354.9 168.5,354.6 169.3,358.0 170.0,360.5 170.8,358.5 171.5,360.7 172.2,358.6 172.9,356.2 173.5,354.3 174.5,356.5 175.1,355.5 175.8,352.2 176.3,352.6 176.8,353.1 177.4,352.0 177.9,351.9 178.8,353.3 179.6,354.8 180.2,356.2 181.0,356.1 181.9,355.9 182.5,353.5 183.3,354.3 184.3,354.8 185.0,352.3 185.9,351.2 186.6,349.6 187.3,351.0 188.3,350.6 188.9,351.9 189.8,348.9 190.4,352.0 191.5,351.8 192.2,349.5 192.8,349.3 193.6,351.8 194.6,350.2 195.2,347.1 196.0,348.8 196.7,347.1 197.7,345.2 198.6,343.0 199.2,341.6 199.8,340.9 200.6,340.9 201.3,344.0 202.1,343.3 202.9,342.4 203.6,343.0 204.4,341.8 205.1,341.5 205.8,340.7 206.5,338.9 207.4,341.6 207.9,341.8 209.0,343.6 209.6,346.6 210.5,346.7 211.2,348.5 211.9,351.6 212.6,351.4 213.4,347.8 214.4,349.8 215.0,348.3 215.9,348.4 216.5,348.3 217.5,347.3 218.2,349.4 218.8,350.4 219.7,350.7 220.2,352.1 221.1,352.2 221.8,353.8 222.6,349.9 223.4,350.0 224.3,350.9 224.9,351.2 225.8,348.4 226.6,349.9 227.4,349.3 228.1,348.1 228.9,346.9 229.8,345.7 230.3,346.6 231.2,345.4 232.0,343.7 232.7,342.7 233.7,345.5 234.4,342.1 235.3,344.4 235.9,340.9 236.8,342.9 237.5,340.2 238.4,341.1 239.1,342.5 239.8,346.2 240.7,346.9 241.4,346.1 242.2,345.7 243.0,350.2 243.8,350.5 244.4,350.6 245.2,351.3 245.9,350.0 246.5,353.5 247.4,350.0 248.1,349.4 248.8,350.0 249.4,348.1 250.1,346.5 250.8,346.3 251.7,349.4 252.4,349.5 253.2,351.0 254.0,348.2 254.8,352.1 255.8,352.6 256.4,349.8 257.1,351.3 258.1,350.4 258.6,353.1 259.3,353.8 259.9,348.0 260.6,345.0 261.1,340.5 261.9,339.6 262.6,339.4 263.5,336.9 264.2,337.0 265.1,339.1 265.9,336.4 266.8,335.3 267.4,338.1 268.4,336.9 269.2,334.4 269.9,336.8 270.6,337.2 271.2,334.6 272.0,335.5 272.9,336.3 273.6,337.6 274.6,338.1 275.1,336.3 275.9,337.2 276.8,337.5 277.6,338.6 278.4,338.8 279.3,335.6 280.0,337.4 280.7,332.9 281.5,335.0 282.4,334.6 283.1,330.3 283.5,331.5 284.1,328.0 284.7,327.4 285.4,325.5 286.0,322.0 286.9,322.8 287.5,318.6 288.1,318.4 289.0,319.0 289.7,320.0 290.2,321.2 291.0,322.0 291.7,320.6 292.3,324.4 292.9,319.8 293.7,319.0 294.5,317.3 295.3,315.0 295.9,315.2 296.7,314.5 297.5,310.1 298.0,309.3 298.8,306.7 299.6,304.2 300.1,302.0 300.9,301.9 301.6,298.3 302.3,303.8 302.8,308.4 303.7,309.4 304.5,317.7 305.1,322.4 305.8,326.2 306.6,334.9 307.2,332.0 307.9,331.5 308.8,330.9 309.3,327.7 309.9,326.8 310.8,326.6 311.3,325.9 311.9,326.7 312.9,327.1 313.5,330.5 314.2,328.5 314.9,332.1 315.6,327.1 316.0,326.6 316.9,325.6 317.4,324.8 318.3,323.2 318.9,321.4 319.6,318.7 320.2,318.1 320.8,319.6 321.6,317.2 322.2,317.3 322.9,316.6 323.6,318.7 324.3,318.8 325.1,318.4 325.7,319.0 326.5,320.4 327.1,320.2 327.9,318.0 328.5,317.8 329.3,315.6 330.0,312.1 330.8,313.3 331.4,313.7 332.0,310.6 332.7,309.9 333.4,309.2 334.0,309.1 334.7,307.9 335.5,306.8 336.2,307.8 336.8,307.1 337.4,303.5 338.3,307.8 338.8,315.5 339.5,319.3 340.3,318.5 340.9,322.2 341.6,320.3 342.3,323.0 342.9,320.0 343.7,319.5 344.2,318.6 345.1,319.7 345.8,319.1 346.5,317.2 347.1,317.3 347.7,315.0 348.6,314.7 349.2,315.0 349.9,314.6 350.5,312.6 351.2,313.6 351.8,314.3 352.5,315.4 353.4,317.0 354.0,315.3 354.6,317.5 355.1,317.6 355.7,317.7 356.7,317.8 357.4,316.7 358.1,316.6 359.0,315.9 359.7,317.1 360.4,314.7 361.1,316.7 362.0,315.8 362.7,312.9 363.6,314.5 364.4,311.7 365.2,312.3 365.9,311.4 366.6,311.1 367.6,310.6 368.4,310.3 369.0,311.0 369.8,312.7 370.7,312.9 371.6,313.7 372.3,314.8 373.1,314.4 373.7,314.1 374.6,315.6 375.4,316.0 376.1,314.6 376.9,314.9 377.7,315.4 378.3,318.8 379.2,315.2 379.6,315.9 380.5,312.2 381.2,313.7 381.8,310.3 382.4,308.3 383.2,310.2 384.1,307.7 384.9,306.4 385.6,306.2 386.2,305.6 387.2,305.0 387.7,305.4 388.6,305.1 389.4,304.4 390.3,301.9 391.0,299.9 391.6,298.7 392.6,298.4 393.3,299.3 394.0,295.6 394.7,295.6 395.5,293.5 396.4,295.1 397.2,295.4 397.9,294.8 398.7,292.8 399.5,294.1 400.0,290.7 400.8,291.3 401.8,291.0 402.5,289.7 403.2,288.6 404.0,288.1 404.6,287.9 405.5,289.1 406.2,288.7 407.1,285.1 407.8,285.7 408.6,282.4 409.2,279.5 410.0,277.4 410.6,277.5 411.5,273.4 412.1,272.5 412.8,265.2 413.4,258.5 414.2,259.4 414.7,258.6 415.5,255.7 416.2,253.7 416.8,255.1 417.4,258.3 418.3,261.4 419.0,264.4 419.7,271.0 420.2,273.9 421.0,276.5 421.7,284.4 422.5,289.0 423.1,285.4 423.9,284.4 424.7,281.9 425.2,281.4 426.1,278.5 426.8,277.0 427.3,275.1 428.1,277.1 428.8,277.3 429.4,275.2 430.2,272.3 430.7,272.7 431.5,271.5 432.0,269.8 432.7,268.0 433.4,270.4 434.2,273.5 434.7,276.4 435.6,278.5 436.1,281.8 436.9,279.3 437.6,278.5 438.4,278.1 439.0,276.6 439.6,276.6 440.4,276.7 440.8,272.2 441.7,271.7 442.3,269.6 443.0,268.7 443.7,266.3 444.4,268.9 445.2,267.2 445.9,265.5 446.5,266.1 447.1,265.3 447.8,264.1 448.5,263.9 449.1,262.9 450.0,259.7 450.7,263.0 451.5,267.9 452.1,268.0 452.9,269.3 453.7,264.8 454.1,265.3 455.0,265.8 455.6,265.4 456.4,264.6 457.0,261.5 457.7,262.6 458.4,259.8 458.9,259.8 459.7,259.2 460.4,259.3 461.3,257.2 461.9,260.0 462.5,262.7 463.3,264.4 463.9,264.1 464.8,266.2 465.4,266.9 466.0,266.1 466.7,263.2 467.4,262.5 468.1,262.5 468.8,263.9 469.6,264.8 470.1,265.4 470.9,267.0 471.5,266.2 472.3,265.0 472.8,265.6 473.6,266.0 474.3,263.2 475.0,264.2 475.8,266.4 476.3,265.4 477.1,266.6 477.7,267.1 478.5,269.9 479.2,269.8 479.9,268.4 480.6,268.6 481.0,270.1 481.7,269.7 482.5,269.5 483.1,270.6 484.0,269.7 484.5,271.4 485.1,271.2 485.8,272.6 486.6,274.7 487.2,275.7 488.0,277.2 488.5,279.2 489.3,278.3 489.8,275.6 490.6,274.3 491.4,272.8 492.0,272.2 492.6,271.3 493.4,268.8 494.0,265.4 494.7,266.2 495.4,266.0 496.1,264.2 497.0,262.9 497.7,262.1 498.3,257.7 498.9,257.3 499.6,260.1 500.5,259.2 501.1,259.9 502.0,263.2 502.4,261.0 503.1,264.7 503.8,263.6 504.7,262.5 505.3,262.5 506.0,262.3 506.5,263.3 507.3,262.9 508.0,262.1 508.7,257.4 509.2,259.6 510.1,257.4 510.8,254.4 511.5,254.2 511.9,252.4 512.9,251.1 513.5,247.8 514.1,248.1 514.8,248.0 515.5,245.1 516.2,243.7 516.9,240.8 517.5,240.8 518.2,238.4 518.9,240.2 519.6,238.8 520.5,241.3 521.3,242.4 522.0,247.6 522.8,248.9 523.5,249.8 524.4,249.0 525.0,246.6 525.8,249.6 526.6,251.0 527.4,253.4 528.2,252.3 528.7,253.4 529.4,250.5 530.2,250.4 530.9,250.4 531.6,248.6 532.1,251.1 532.8,253.8 533.5,255.2 534.1,254.5 534.9,253.7 535.6,252.1 536.2,248.0 536.8,245.3 537.6,245.3 538.2,246.4 538.9,250.4 539.6,251.8 540.2,254.1 540.9,253.4 541.8,258.6 542.5,262.8 543.3,266.7 544.0,269.1 544.9,270.7 545.7,275.3 546.5,273.9 547.1,275.8 547.8,278.5 548.8,275.3 549.5,276.1 550.3,273.9 550.8,279.4 551.7,283.4 552.5,289.4 553.3,292.6 553.9,290.9 554.8,292.1 555.3,293.0 556.0,288.9 556.7,288.8 557.3,285.4 558.0,283.4 558.9,283.5 559.5,283.1 560.0,279.4 560.9,278.3 561.6,276.4 562.3,275.1 562.8,272.5 563.4,266.9 563.9,266.6 564.6,264.3 565.1,262.6 565.7,256.4 566.3,253.7 566.7,247.9 567.5,246.2 568.1,245.3 568.7,242.1 569.4,240.4 570.4,230.0 571.0,230.1 571.8,232.8 572.3,235.1 572.9,234.4 573.6,239.0 574.3,240.1 575.0,239.9 575.6,243.2 576.4,245.0 577.2,244.9 577.8,246.1 578.5,248.8 579.1,246.9 580.0,250.0 580.5,250.3 581.1,249.7 582.1,250.3 582.8,251.5 583.4,247.1 584.0,246.9 584.8,243.4 585.5,241.6 586.1,237.6 587.0,239.4 587.6,240.2 588.3,242.0 588.9,240.0 589.5,243.0 590.3,243.8 591.0,244.5 591.6,246.7 592.4,250.6 592.9,248.9 593.7,250.2 594.5,245.5 595.1,245.5 595.9,244.3 596.5,244.2 597.3,242.6 598.0,241.5 598.6,239.4 599.2,237.6 600.0,237.3 600.7,235.3 601.3,233.4 601.9,234.6 602.7,233.1 603.4,229.5 604.0,231.1 604.8,233.1 605.3,233.1 606.1,233.8 606.8,233.9 607.4,233.5 608.1,231.3 609.1,230.6 609.8,227.6 610.7,226.8 611.4,224.3 612.0,222.4 612.7,218.9 613.5,216.3 614.4,219.3 615.1,222.7 615.9,227.8 616.6,226.2 617.1,226.4 617.8,229.4 618.5,227.7 619.4,226.9 619.9,227.6 620.5,230.2 621.4,229.9 622.0,232.2 622.8,232.3 623.4,236.6 624.2,238.1 624.9,239.3 625.6,238.3 626.4,236.2 627.0,235.7 627.7,233.1 628.3,233.4 629.1,233.3 629.7,233.2 630.5,230.5 631.2,229.5 631.8,232.1 632.5,229.5 633.1,228.4 634.0,229.3 634.6,228.2 635.2,229.3 636.0,227.8 636.6,227.7 637.2,224.9 638.0,225.5 638.7,225.0 639.3,221.6 640.0,223.3 640.6,220.1 641.4,218.5 641.9,218.8 642.7,220.2 643.3,221.5 644.0,220.5 644.7,220.7 645.5,223.6 646.1,221.2 647.0,224.9 647.5,224.0 648.3,224.5 648.9,225.0 649.5,224.7 650.2,224.1 650.9,227.1 651.7,224.8 652.3,227.9 653.1,224.0 653.6,224.1 654.3,221.6 655.1,218.2 655.6,217.6 656.3,215.5 657.1,213.4 657.8,212.5 658.4,211.2 659.0,207.0 659.7,205.6 660.6,206.8 661.3,203.7 662.0,204.4 662.7,202.7 663.3,198.7 663.9,198.8 664.6,199.1 665.4,197.1 666.2,194.2 666.8,192.3 667.5,190.9 668.1,188.3 669.0,185.3 669.5,184.9 670.3,181.5 671.1,183.7 671.9,183.8 672.5,183.9 673.4,185.4 674.0,187.7 674.9,187.2 675.8,189.1 676.3,190.1 677.1,192.8 678.0,191.1 678.3,192.5 679.0,190.2 679.5,188.6 680.2,186.3 681.1,182.4 681.8,176.2 682.5,174.2 683.1,171.1 683.8,170.3 684.3,169.1 685.0,164.2 685.7,164.0 686.3,160.4 686.8,161.6 687.6,160.6 688.4,156.9 689.0,155.0 689.7,153.8 690.5,149.9 691.0,148.1 691.4,152.9 692.0,160.8 692.6,166.0 693.5,170.4 694.2,174.9 694.8,179.6 695.5,178.5 696.4,177.3 697.0,173.0 697.8,171.9 698.6,171.3 699.1,174.5 699.9,172.8 700.7,173.6 701.4,174.2 702.1,173.7 702.6,170.7 703.4,169.4 704.0,167.0 704.6,164.9 705.3,165.2 706.2,163.9 706.7,160.9 707.6,160.0 708.1,157.1 708.8,159.0 709.3,159.6 709.9,159.5 710.7,161.4 711.5,161.8 712.4,164.7 713.0,166.6 713.7,166.8 714.4,171.3 715.2,174.9 715.6,179.2 716.4,181.9 717.1,180.1 717.6,177.0 718.4,176.2 719.2,174.8 720.1,172.4 720.8,172.1 721.4,174.4 722.3,172.3 723.0,175.1 723.7,175.2 724.4,176.1 725.3,174.0 726.0,175.7 726.9,178.0 727.7,176.5 728.2,180.8 728.8,183.2 729.4,184.5 730.1,186.5 730.9,182.8 731.5,183.6 732.4,181.1 733.0,176.7 733.8,176.2 734.6,173.0 735.3,175.1 736.2,172.0 736.8,174.7 737.7,173.0 738.2,173.3 739.1,174.1 739.8,173.3 740.7,175.4 741.2,176.8 742.0,175.7 742.8,176.1 743.7,178.9 744.3,181.0 745.1,178.3 745.9,179.2 746.5,181.9 747.4,184.1 748.2,181.9 748.8,182.4 749.6,182.9 750.4,180.7 751.1,181.4 751.7,181.5 752.7,181.0 753.5,178.8 754.1,180.9 754.8,182.0 755.5,179.6 756.3,182.7 757.0,182.1 757.7,183.7 758.7,180.3 759.4,184.0 760.1,181.0 760.9,181.6 761.6,178.9 762.3,180.8 763.1,178.7 763.9,177.1 764.7,177.0 765.2,175.1 766.0,173.1 767.0,172.8 767.5,171.7 768.1,170.2 768.9,167.1 769.4,168.4 770.2,166.3 770.8,169.9 771.5,170.4 772.5,171.0 773.1,171.0 773.8,170.6 774.7,170.2 775.4,170.3 776.2,172.7 776.7,173.8 777.6,173.1 778.3,172.8 779.3,170.2 779.9,170.6 780.6,172.0 781.4,171.8 782.0,172.8 782.7,176.5 783.4,176.3 784.2,180.3 784.7,180.4 785.6,182.1 786.1,179.7 786.9,180.1 787.4,177.3 788.1,178.0 788.9,177.5 789.5,179.1 790.3,178.8 790.9,180.6 791.6,181.9 792.2,181.0 793.0,181.4 793.6,184.3 794.4,184.3 795.2,182.9 795.8,184.7 796.5,182.5 796.9,184.8 797.7,182.6 798.5,185.5 799.2,183.8 799.9,186.4 800.5,190.0 801.2,190.9 801.9,194.7 802.6,195.2 803.3,196.6 803.8,199.3 804.7,200.1 805.3,200.2 806.0,199.4 806.6,200.7 807.2,202.1 808.1,201.9 808.7,206.7 809.5,205.5 810.2,210.4 810.7,209.5 811.4,211.7 812.1,213.9 812.8,212.9 813.6,212.5 814.3,213.1 814.8,212.3 815.6,210.2 816.3,208.9 816.8,210.0 817.7,209.6 818.3,207.4 819.1,204.7 819.5,199.4 820.4,196.3 820.9,194.4 821.7,190.1 822.4,188.3 823.2,192.8 823.7,198.3"/><polyline fill="none" stroke="#0A820A" stroke-width="3.7" stroke-linejoin="round" stroke-linecap="round"  points="66.0,349.0 66.8,330.9 67.6,319.7 68.2,320.1 68.7,318.8 69.7,320.0 70.3,318.4 70.8,319.5 71.5,321.2 72.0,320.4 72.7,323.6 73.3,324.3 73.8,327.8 74.4,324.4 74.8,323.8 75.5,317.9 76.3,317.0 76.7,311.4 77.4,304.3 77.9,299.3 78.7,302.3 79.4,302.6 79.9,305.0 80.5,307.5 81.2,308.7 81.8,308.0 82.5,305.7 83.3,305.4 83.8,304.4 84.6,305.2 85.3,307.4 85.9,312.9 86.4,315.0 87.1,314.5 87.7,312.9 88.4,316.6 89.1,316.2 90.0,317.3 90.5,316.7 91.2,320.0 91.8,321.6 92.7,326.3 93.2,330.9 93.8,327.3 94.6,328.2 95.1,327.0 95.8,323.4 96.4,321.7 97.0,320.5 97.9,322.5 98.4,317.8 99.3,317.3 99.8,313.9 100.5,313.8 101.1,309.9 101.7,309.5 102.3,309.8 103.2,310.3 103.8,315.4 104.4,316.7 104.9,318.5 105.5,323.2 106.2,324.9 107.0,329.5 107.8,327.8 108.4,328.7 109.2,326.9 110.0,326.2 110.7,330.0 111.6,329.2 112.2,328.8 112.9,329.1 113.8,333.6 114.3,335.6 115.1,337.4 115.6,341.3 116.2,344.6 116.7,347.4 117.5,351.7 118.1,356.0 119.0,358.0 119.7,361.2 120.5,357.1 121.3,353.1 122.1,348.5 122.8,343.3 123.6,342.8 124.2,341.5 125.1,339.7 125.8,339.4 126.4,336.5 127.0,337.0 127.9,335.0 128.5,335.2 129.2,332.5 129.9,335.8 130.5,337.0 131.2,340.2 131.9,341.8 132.4,340.6 133.2,343.4 133.8,344.4 134.6,342.9 135.3,341.7 135.8,339.6 136.6,337.9 137.2,335.5 138.0,334.8 138.7,333.5 139.3,332.7 140.0,328.7 140.7,326.3 141.3,325.4 142.1,319.8 142.8,317.6 143.6,317.4 144.3,318.6 145.1,315.5 145.9,315.2 146.5,312.2 147.2,315.1 148.1,317.9 148.7,316.9 149.5,316.8 150.0,320.3 150.9,319.7 151.6,323.7 152.3,323.0 153.0,323.6 153.9,325.0 154.7,328.0 155.3,326.4 156.1,328.2 156.7,328.4 157.5,330.0 158.1,331.4 158.7,333.4 159.5,333.6 160.4,337.1 160.9,337.4 161.6,340.8 162.5,340.0 163.0,341.5 163.9,343.8 164.5,342.7 165.2,341.3 165.9,337.7 166.6,336.5 167.3,334.0 167.9,332.0 168.7,328.6 169.5,326.8 170.1,322.8 170.9,323.6 171.8,320.6 172.2,319.8 173.1,317.4 173.9,316.0 174.5,315.7 175.1,312.3 175.9,310.2 176.4,311.3 177.0,308.1 177.9,303.4 178.4,301.6 179.3,299.6 179.9,301.7 180.6,301.4 181.2,302.8 182.1,301.4 182.6,303.8 183.4,302.7 183.9,302.5 184.9,303.1 185.5,299.1 186.2,297.6 186.9,298.2 187.6,292.9 188.2,293.7 188.9,290.4 189.7,286.7 190.4,284.3 190.9,283.5 191.6,280.3 192.4,280.9 193.3,278.0 193.9,278.1 194.7,278.2 195.6,277.2 196.1,277.8 196.9,277.0 197.8,278.6 198.5,278.0 199.2,278.3 200.0,279.6 200.8,277.8 201.4,280.1 202.2,280.7 202.9,283.9 203.4,285.3 204.1,284.6 204.9,286.1 205.7,288.2 206.2,290.5 206.8,291.4 207.5,290.4 208.4,291.7 208.9,288.9 209.8,290.3 210.4,287.6 211.0,287.7 211.7,288.0 212.6,288.5 213.3,288.1 214.2,290.4 214.9,290.0 215.7,290.7 216.3,290.5 217.1,289.4 217.6,287.6 218.4,287.1 219.3,288.4 220.0,286.2 220.6,289.1 221.3,286.9 222.0,285.4 222.6,285.3 223.4,285.9 224.3,284.7 224.8,284.9 225.5,284.7 226.2,285.1 226.9,286.5 227.7,286.8 228.6,286.1 229.3,287.4 229.9,286.6 230.7,286.8 231.6,285.2 232.2,284.9 233.0,285.3 233.8,289.0 234.5,285.5 235.3,284.5 236.2,285.2 236.8,282.4 237.7,284.1 238.4,281.2 239.2,278.2 239.6,279.8 240.4,275.6 241.1,277.8 241.8,274.0 242.4,274.6 243.3,277.8 244.0,277.7 244.4,279.3 245.2,280.9 245.8,279.7 246.5,275.9 247.1,276.9 247.8,272.6 248.6,270.2 249.2,269.7 249.9,271.0 250.8,269.3 251.5,265.9 251.9,265.3 252.7,263.5 253.4,261.9 254.2,261.1 254.7,258.3 255.6,256.4 256.0,255.7 256.7,256.4 257.6,253.6 258.1,251.7 258.9,254.8 259.7,259.7 260.4,260.9 261.4,263.9 261.9,262.1 262.6,258.6 263.3,256.7 264.1,254.9 264.8,252.5 265.5,249.5 266.1,249.8 266.9,249.8 267.7,248.2 268.2,248.0 269.0,244.9 269.6,244.4 270.4,245.8 271.1,241.7 271.9,241.9 272.4,238.3 273.1,237.8 274.0,238.3 274.6,233.9 275.4,238.0 276.1,240.2 277.0,246.9 277.8,247.7 278.5,250.3 279.3,253.6 280.2,257.2 280.7,257.7 281.7,255.5 282.3,252.6 283.1,251.7 283.8,249.0 284.6,244.8 285.4,245.1 285.9,246.4 286.6,243.9 287.5,244.2 288.2,240.8 288.9,239.9 289.8,239.7 290.6,238.5 291.2,237.8 292.2,239.2 292.9,237.6 293.5,235.1 294.4,235.6 295.0,233.6 295.7,234.4 296.6,231.0 297.2,230.1 297.9,230.8 298.6,229.2 299.2,224.8 300.0,225.5 300.7,223.2 301.5,220.3 302.2,220.1 303.1,224.9 303.8,229.5 304.7,232.9 305.5,235.5 306.1,237.1 306.7,237.3 307.5,238.0 308.1,237.4 308.7,239.4 309.5,242.0 310.2,239.6 311.0,238.8 311.6,237.3 312.3,238.9 313.1,239.1 313.7,238.2 314.4,239.7 314.9,241.8 315.8,243.1 316.5,246.7 317.0,247.0 317.7,250.1 318.4,251.1 319.2,248.3 319.7,244.7 320.5,244.6 321.2,242.2 321.9,239.9 322.4,238.4 323.2,239.1 323.8,236.4 324.6,233.2 325.1,232.8 326.0,232.2 326.7,227.1 327.4,224.2 328.3,220.0 328.9,217.8 329.9,218.5 330.4,220.6 331.3,224.8 331.9,225.5 332.7,227.9 333.4,228.9 333.9,228.7 334.8,231.2 335.4,231.4 336.1,232.4 336.8,235.6 337.8,238.9 338.3,241.9 339.1,245.7 339.9,245.3 340.6,243.5 341.6,241.4 342.4,238.7 343.1,239.8 343.7,240.0 344.2,236.9 344.9,237.5 345.7,238.7 346.5,239.9 347.0,236.6 347.8,234.4 348.3,233.2 349.1,231.5 349.8,230.5 350.6,225.1 351.3,228.4 351.8,226.9 352.5,228.7 353.3,231.7 353.9,230.2 354.6,232.5 355.4,231.7 355.9,230.5 356.8,230.8 357.2,230.1 357.9,230.7 358.6,228.8 359.3,230.5 360.2,231.6 360.7,233.9 361.3,232.6 362.2,232.2 362.9,234.4 363.4,232.9 364.3,232.4 365.1,230.1 365.8,232.6 366.7,229.7 367.3,227.9 368.4,228.4 369.0,225.0 369.8,226.5 370.6,224.6 371.5,223.5 372.2,220.0 372.9,221.5 373.7,220.6 374.5,219.3 375.1,218.3 375.9,216.5 376.4,214.7 377.2,214.1 378.0,209.9 378.5,208.7 379.2,207.4 380.0,205.4 380.5,205.3 381.2,203.6 382.0,202.7 382.5,196.6 383.3,197.3 383.8,191.3 384.5,195.8 385.4,193.9 385.9,196.9 386.7,199.7 387.5,201.2 388.1,198.5 389.1,197.4 389.5,193.4 390.4,192.6 391.0,191.2 391.8,191.3 392.4,188.0 393.1,187.2 394.0,184.9 394.6,186.3 395.2,185.9 396.0,184.1 396.8,184.5 397.4,182.7 398.1,179.8 399.0,175.9 399.7,175.0 400.6,174.3 401.3,170.3 402.1,170.6 403.0,169.5 403.5,165.2 404.5,163.6 405.1,164.8 405.7,161.9 406.5,160.0 407.0,160.4 407.5,157.0 408.2,160.1 408.8,161.8 409.3,162.6 410.1,165.0 411.0,162.7 411.5,162.0 412.4,157.2 413.2,155.8 413.8,153.1 414.3,150.5 415.2,149.9 415.8,147.6 416.2,145.9 417.0,153.5 417.5,157.2 418.3,164.5 419.0,168.5 419.6,166.8 420.2,166.8 420.8,163.4 421.5,161.1 421.9,170.8 422.5,176.1 423.2,173.9 424.0,169.7 424.3,165.0 425.2,158.7 425.9,158.4 426.6,156.7 427.5,157.9 428.3,157.0 428.8,155.3 429.6,157.3 430.3,153.3 431.1,152.5 431.8,153.8 432.6,151.4 433.3,153.3 434.2,153.9 434.9,156.4 435.5,154.8 436.4,156.5 437.1,158.5 437.7,159.8 438.4,163.3 438.8,162.4 439.6,161.6 440.5,159.5 441.2,159.2 442.1,155.4 442.8,154.5 443.3,154.5 444.2,153.3 444.7,153.7 445.5,151.3 446.3,148.8 447.0,148.0 447.6,145.9 448.5,146.5 449.2,144.5 449.8,144.2 450.7,145.8 451.4,144.1 451.9,143.0 452.6,140.8 453.4,141.6 454.0,142.3 455.0,143.7 455.5,140.3 456.4,140.2 457.0,139.9 457.8,141.5 458.4,141.7 459.2,145.6 460.0,144.0 460.7,147.9 461.5,148.1 462.4,145.4 463.1,144.7 463.6,141.4 464.6,141.5 465.2,141.7 466.0,139.6 466.7,140.0 467.4,138.5 468.3,138.5 468.9,136.5 469.8,139.5 470.4,141.5 471.2,139.3 471.9,141.4 472.8,144.0 473.3,144.9 473.9,146.1 474.6,146.8 475.2,149.7 476.0,148.6 476.8,146.6 477.7,144.9 478.5,145.2 479.2,141.7 480.1,139.6 480.7,139.3 481.5,136.8 482.1,137.9 482.8,133.6 483.5,136.6 484.2,139.8 484.7,142.3 485.5,142.2 486.2,144.7 486.9,146.9 487.7,143.8 488.4,141.9 489.3,143.4 490.1,139.3 490.8,140.4 491.4,138.8 492.4,140.7 492.9,140.1 493.7,137.9 494.5,136.5 495.2,134.9 496.1,136.3 496.9,135.2 497.5,133.6 498.4,133.1 499.1,133.8 499.9,132.9 500.5,130.7 501.6,129.7 502.1,128.6 503.1,128.4 503.8,129.1 504.7,128.6 505.3,127.1 506.1,130.1 506.7,130.6 507.4,130.4 508.1,130.2 508.6,131.5 509.5,133.0 510.0,137.6 510.7,141.9 511.4,145.4 512.2,144.8 513.0,144.6 513.9,141.1 514.8,142.5 515.6,138.5 516.2,140.7 516.9,140.3 517.6,144.4 518.4,146.0 519.1,146.9 519.8,148.8 520.6,145.9 521.3,145.8 522.1,145.1 522.8,142.1 523.5,141.3 524.4,142.3 525.0,140.4 525.9,137.9 526.3,136.8 527.1,133.1 527.8,130.7 528.4,130.3 529.1,126.8 530.0,131.6 530.9,130.4 531.7,130.6 532.2,131.5 533.0,134.9 534.0,135.6 534.8,136.7 535.5,138.7 536.1,138.4 536.7,140.8 537.5,141.3 538.1,144.9 538.7,145.2 539.4,147.3 540.2,146.8 540.9,149.5 541.5,152.9 542.3,152.4 543.0,153.3 543.6,154.8 544.3,159.7 545.0,158.1 545.6,161.4 546.1,165.8 546.6,172.5 547.4,188.7 547.9,193.7 548.4,200.2 549.3,206.5 549.7,213.1 550.6,218.4 551.2,224.9 552.1,231.9 552.5,239.7 553.2,245.3 553.9,228.2 554.5,208.0 555.1,216.1 555.9,225.0 556.3,230.7 557.0,236.6 557.4,242.6 558.1,238.1 558.8,233.6 559.4,231.7 560.0,225.0 560.8,225.2 561.4,223.9 562.2,221.7 562.7,223.8 563.6,222.5 564.1,226.0 564.8,227.5 565.5,228.1 566.1,231.7 567.0,236.4 567.7,230.4 568.3,223.2 568.9,214.5 569.6,216.0 570.2,217.9 571.0,218.4 571.8,216.8 572.4,214.3 573.2,209.4 573.9,209.4 574.5,205.6 575.1,204.7 576.0,203.3 576.5,202.8 577.2,201.4 577.9,198.8 578.4,199.1 579.3,195.2 579.9,194.7 580.6,194.2 581.4,184.8 582.0,178.8 582.6,177.7 583.3,173.8 584.1,171.6 584.8,168.2 585.8,172.0 586.3,172.5 586.8,172.9 587.3,177.8 587.9,174.8 588.4,174.0 589.3,181.2 590.0,186.4 590.6,189.1 591.1,191.6 591.8,193.7 592.7,197.4 593.1,193.5 594.0,192.5 594.6,188.9 595.3,186.2 595.8,184.3 596.4,180.2 597.2,180.6 597.9,177.9 598.6,177.8 599.5,177.3 600.2,177.4 600.8,174.9 601.4,173.9 602.2,175.1 602.9,172.0 603.4,168.7 604.2,167.2 604.7,165.2 605.5,162.5 606.3,161.7 606.8,160.0 607.5,161.9 608.2,161.7 609.0,163.4 609.6,165.1 610.4,165.6 610.9,164.8 611.6,165.4 612.1,165.4 612.8,163.7 613.5,164.3 614.2,162.6 615.0,162.3 615.7,160.3 616.5,160.9 617.2,158.5 617.7,159.5 618.3,157.1 619.1,156.2 619.7,155.8 620.4,154.3 621.1,153.3 622.1,150.7 622.8,155.0 623.6,154.3 624.3,157.2 625.3,159.8 625.9,161.8 626.7,159.3 627.5,160.1 628.1,158.1 628.9,158.4 629.5,153.6 630.2,154.6 630.8,154.0 631.5,153.0 632.3,152.4 633.1,151.9 633.7,151.1 634.2,150.0 635.0,150.1 635.8,152.8 636.4,156.1 637.2,159.1 637.8,161.9 638.4,162.4 639.2,163.4 639.8,167.7 640.3,165.9 641.2,163.8 641.9,163.8 642.5,161.2 643.3,160.8 644.1,160.1 644.7,158.5 645.2,163.0 646.0,163.6 646.5,164.9 647.3,163.3 648.1,162.8 648.8,162.0 649.5,158.9 650.3,157.9 650.9,159.9 651.8,158.7 652.4,158.0 653.5,158.9 654.0,161.4 654.8,160.1 655.6,160.2 656.3,157.3 657.0,156.6 657.7,155.0 658.5,154.7 659.4,156.1 660.0,152.4 660.8,152.9 661.6,149.9 662.3,149.5 663.0,150.5 663.7,148.2 664.6,147.6 665.4,145.7 666.2,144.2 666.9,145.1 667.4,144.0 668.5,145.2 669.2,145.1 669.7,142.7 670.6,144.5 671.5,141.1 672.3,142.1 672.8,139.8 673.6,141.0 674.4,139.7 675.3,139.8 675.8,140.5 676.5,138.6 677.2,137.6 678.3,138.8 678.9,138.8 679.7,137.9 680.4,136.3 681.0,135.9 681.9,135.2 682.7,136.2 683.3,135.9 684.1,135.2 685.0,135.7 685.5,133.7 686.5,135.1 687.1,135.1 687.8,135.3 688.7,135.4 689.0,135.4 689.9,137.0 690.3,136.6 690.9,139.3 691.6,140.5 692.4,143.8 692.9,145.0 693.5,145.9 694.4,144.5 695.2,144.1 695.9,144.5 696.6,146.8 697.4,145.6 697.9,143.2 698.8,144.8 699.5,140.8 700.2,141.2 700.9,140.2 701.7,140.1 702.4,139.7 703.4,139.8 704.1,140.4 704.4,142.8 704.9,142.7 705.7,147.4 706.3,147.8 707.0,149.2 707.5,149.9 708.2,150.7 709.1,153.2 709.6,150.1 710.3,150.5 711.0,147.1 711.8,151.6 712.3,151.3 713.0,153.6 713.8,153.8 714.4,158.9 715.1,162.3 715.9,166.1 716.6,161.6 717.3,159.2 717.9,153.5 718.7,153.3 719.2,151.5 719.8,149.4 720.7,149.8 721.2,149.2 721.8,152.2 722.6,151.8 723.4,154.0 724.1,150.8 724.8,150.0 725.4,151.0 726.0,154.7 726.8,156.8 727.3,160.0 728.0,157.9 728.9,155.6 729.4,154.5 730.3,154.5 730.9,153.1 731.6,151.0 732.1,149.4 733.0,150.2 733.8,149.3 734.4,149.6 735.0,146.8 735.7,145.9 736.4,146.0 736.9,146.8 737.7,145.3 738.4,144.0 739.0,142.2 739.4,144.6 740.0,142.3 740.7,145.5 741.3,144.9 741.8,147.2 742.4,147.6 743.3,147.4 743.9,149.8 744.8,151.0 745.6,150.9 746.2,152.9 746.8,153.7 747.3,155.9 748.0,158.6 748.8,159.1 749.5,161.7 750.1,162.5 751.0,165.1 751.5,162.9 752.4,163.5 753.3,161.3 754.1,159.3 754.7,159.9 755.6,157.6 756.4,155.0 757.1,157.0 757.9,153.4 758.6,155.0 759.3,154.4 759.9,155.8 760.7,154.9 761.2,154.3 762.0,154.4 762.8,153.7 763.4,155.7 764.2,154.0 765.0,151.0 765.7,153.3 766.4,152.4 767.3,150.9 767.9,150.6 768.8,149.5 769.3,150.2 770.2,150.9 770.7,150.1 771.5,150.3 772.0,152.0 772.8,152.9 773.4,153.7 774.3,153.2 774.9,154.3 775.7,154.7 776.3,155.0 777.1,153.5 777.5,157.0 778.4,154.3 779.1,157.1 779.7,158.1 780.2,154.9 781.0,156.3 781.6,153.7 782.3,155.4 783.0,151.7 783.8,153.7 784.3,150.1 785.2,150.3 785.8,150.8 786.4,149.9 787.1,148.0 787.9,148.4 788.6,146.9 789.3,146.9 789.8,146.6 790.5,150.3 791.1,150.1 792.0,149.9 792.4,149.2 793.1,149.0 793.9,149.2 794.7,151.0 795.2,150.5 795.9,150.4 796.6,150.8 797.3,152.0 798.0,152.6 798.6,155.7 799.4,153.8 800.1,155.5 800.9,156.3 801.5,156.4 802.3,156.3 803.0,157.2 803.5,154.2 804.2,155.2 804.9,155.4 805.5,154.5 806.5,157.8 807.3,158.2 808.0,160.9 808.9,160.8 809.6,164.5 810.4,165.2 811.0,164.5 811.8,164.6 812.6,163.8 813.3,159.2 813.7,159.4 814.6,159.7 815.1,157.3 815.8,156.9 816.4,158.7 817.1,155.9 817.9,155.2 818.8,156.9 819.6,156.9 820.3,154.9 821.0,155.0 821.7,156.7 822.5,156.0 823.3,154.6"/><path fill="#B8460F" stroke="#8A2E0C" stroke-width="0.6" stroke-linejoin="round" d="M65.7,341.7l2.8,6h-5.6zM70.3,341.7l2.8,6h-5.6zM74.9,341.7l2.8,6h-5.6zM79.5,341.7l2.8,6h-5.6zM84.1,341.7l2.8,6h-5.6zM88.7,341.7l2.8,6h-5.6zM93.3,341.7l2.8,6h-5.6zM97.9,341.6l2.8,6h-5.6zM102.6,341.3l2.8,6h-5.6zM107.2,340.9l2.8,6h-5.6zM111.8,340.2l2.8,6h-5.6zM116.4,338.8l2.8,6h-5.6zM121.0,337.6l2.8,6h-5.6zM125.6,336.7l2.8,6h-5.6zM130.2,335.5l2.8,6h-5.6zM134.8,333.9l2.8,6h-5.6zM139.4,332.4l2.8,6h-5.6zM144.1,330.7l2.8,6h-5.6zM148.7,328.7l2.8,6h-5.6zM153.3,325.9l2.8,6h-5.6zM157.9,324.0l2.8,6h-5.6zM162.5,321.2l2.8,6h-5.6zM167.1,317.6l2.8,6h-5.6zM171.7,315.3l2.8,6h-5.6zM176.3,313.1l2.8,6h-5.6zM180.9,310.7l2.8,6h-5.6zM185.6,308.5l2.8,6h-5.6zM190.2,307.3l2.8,6h-5.6zM194.8,306.5l2.8,6h-5.6zM199.4,305.9l2.8,6h-5.6zM204.0,305.4l2.8,6h-5.6zM208.6,304.4l2.8,6h-5.6zM213.2,302.5l2.8,6h-5.6zM217.8,300.8l2.8,6h-5.6zM222.4,298.9l2.8,6h-5.6zM227.1,296.6l2.8,6h-5.6zM231.7,294.7l2.8,6h-5.6zM236.3,293.1l2.8,6h-5.6zM240.9,292.1l2.8,6h-5.6zM245.5,291.2l2.8,6h-5.6zM250.1,290.2l2.8,6h-5.6zM254.7,287.7l2.8,6h-5.6zM259.3,285.9l2.8,6h-5.6zM263.9,283.9l2.8,6h-5.6zM268.6,280.9l2.8,6h-5.6zM273.2,278.4l2.8,6h-5.6zM277.8,276.1l2.8,6h-5.6zM282.4,273.3l2.8,6h-5.6zM287.0,270.5l2.8,6h-5.6zM291.6,269.4l2.8,6h-5.6zM296.2,267.9l2.8,6h-5.6zM300.8,265.6l2.8,6h-5.6zM305.4,261.3l2.8,6h-5.6zM310.1,257.1l2.8,6h-5.6zM314.7,256.3l2.8,6h-5.6zM319.3,255.7l2.8,6h-5.6zM323.9,255.7l2.8,6h-5.6zM328.5,256.2l2.8,6h-5.6zM333.1,257.0l2.8,6h-5.6zM337.7,258.4l2.8,6h-5.6zM342.3,259.1l2.8,6h-5.6zM346.9,258.7l2.8,6h-5.6zM351.6,258.3l2.8,6h-5.6zM356.2,257.6l2.8,6h-5.6zM360.8,256.3l2.8,6h-5.6zM365.4,254.4l2.8,6h-5.6zM370.0,252.4l2.8,6h-5.6zM374.6,250.3l2.8,6h-5.6zM379.2,248.0l2.8,6h-5.6zM383.8,245.4l2.8,6h-5.6zM388.4,240.8l2.8,6h-5.6zM393.1,238.0l2.8,6h-5.6zM397.7,235.7l2.8,6h-5.6zM402.3,232.5l2.8,6h-5.6zM406.9,227.4l2.8,6h-5.6zM411.5,221.2l2.8,6h-5.6zM416.1,215.0l2.8,6h-5.6zM420.7,209.9l2.8,6h-5.6zM425.3,205.3l2.8,6h-5.6zM429.9,201.8l2.8,6h-5.6zM434.6,197.3l2.8,6h-5.6zM439.2,193.7l2.8,6h-5.6zM443.8,191.7l2.8,6h-5.6zM448.4,190.4l2.8,6h-5.6zM453.0,190.0l2.8,6h-5.6zM457.6,190.5l2.8,6h-5.6zM462.2,191.6l2.8,6h-5.6zM466.8,193.1l2.8,6h-5.6zM471.4,194.4l2.8,6h-5.6zM476.1,195.1l2.8,6h-5.6zM480.7,195.9l2.8,6h-5.6zM485.3,196.7l2.8,6h-5.6zM489.9,197.4l2.8,6h-5.6zM494.5,197.6l2.8,6h-5.6zM499.1,196.9l2.8,6h-5.6zM503.7,195.0l2.8,6h-5.6zM508.3,192.6l2.8,6h-5.6zM512.9,189.5l2.8,6h-5.6zM517.6,186.1l2.8,6h-5.6zM522.2,182.3l2.8,6h-5.6zM526.8,179.1l2.8,6h-5.6zM531.4,176.1l2.8,6h-5.6zM536.0,173.8l2.8,6h-5.6zM540.6,170.0l2.8,6h-5.6zM545.2,165.3l2.8,6h-5.6zM549.8,162.5l2.8,6h-5.6zM554.4,158.4l2.8,6h-5.6zM559.1,158.7l2.8,6h-5.6zM563.7,158.8l2.8,6h-5.6zM568.3,150.2l2.8,6h-5.6zM572.9,158.2l2.8,6h-5.6zM577.5,166.8l2.8,6h-5.6zM582.1,172.7l2.8,6h-5.6zM586.7,178.0l2.8,6h-5.6zM591.3,179.9l2.8,6h-5.6zM595.9,181.5l2.8,6h-5.6zM600.6,183.8l2.8,6h-5.6zM605.2,187.1l2.8,6h-5.6zM609.8,187.7l2.8,6h-5.6zM614.4,184.3l2.8,6h-5.6zM619.0,184.9l2.8,6h-5.6zM623.6,184.3l2.8,6h-5.6zM628.2,183.1l2.8,6h-5.6zM632.8,180.1l2.8,6h-5.6zM637.4,176.6l2.8,6h-5.6zM642.1,174.2l2.8,6h-5.6zM646.7,173.6l2.8,6h-5.6zM651.3,174.9l2.8,6h-5.6zM655.9,172.8l2.8,6h-5.6zM660.5,172.4l2.8,6h-5.6zM665.1,171.7l2.8,6h-5.6zM669.7,170.6l2.8,6h-5.6zM674.3,172.4l2.8,6h-5.6zM678.9,173.8l2.8,6h-5.6zM683.6,174.8l2.8,6h-5.6zM688.2,175.2l2.8,6h-5.6zM692.8,174.1l2.8,6h-5.6zM697.4,171.5l2.8,6h-5.6zM702.0,170.4l2.8,6h-5.6zM706.6,170.4l2.8,6h-5.6zM711.2,165.6l2.8,6h-5.6zM715.8,159.6l2.8,6h-5.6zM720.4,165.1l2.8,6h-5.6zM725.1,162.8l2.8,6h-5.6zM729.7,160.5l2.8,6h-5.6zM734.3,163.6l2.8,6h-5.6zM738.9,165.0l2.8,6h-5.6zM743.5,162.6l2.8,6h-5.6zM748.1,156.8l2.8,6h-5.6zM752.7,156.1l2.8,6h-5.6zM757.3,159.0l2.8,6h-5.6zM761.9,159.8l2.8,6h-5.6zM766.6,159.4l2.8,6h-5.6zM771.2,159.7l2.8,6h-5.6zM775.8,158.0l2.8,6h-5.6zM780.4,158.9l2.8,6h-5.6zM785.0,157.8l2.8,6h-5.6zM789.6,156.6l2.8,6h-5.6zM794.2,155.5l2.8,6h-5.6zM798.8,156.2l2.8,6h-5.6zM803.4,155.7l2.8,6h-5.6zM808.1,156.0l2.8,6h-5.6zM812.7,155.9l2.8,6h-5.6zM817.3,155.6l2.8,6h-5.6zM821.9,156.2l2.8,6h-5.6z"/><path fill="#CC0A1E" d="M64.2,347.5h3v2h-3zM68.8,346.8h3v2h-3zM73.4,346.0h3v2h-3zM78.0,345.2h3v2h-3zM82.6,344.4h3v2h-3zM87.2,342.5h3v2h-3zM91.8,340.7h3v2h-3zM96.4,339.2h3v2h-3zM101.1,337.7h3v2h-3zM105.7,336.6h3v2h-3zM110.3,335.4h3v2h-3zM114.9,333.9h3v2h-3zM119.5,332.4h3v2h-3zM124.1,330.8h3v2h-3zM128.7,329.2h3v2h-3zM133.3,327.3h3v2h-3zM137.9,325.4h3v2h-3zM142.6,323.8h3v2h-3zM147.2,322.3h3v2h-3zM151.8,321.4h3v2h-3zM156.4,320.7h3v2h-3zM161.0,319.9h3v2h-3zM165.6,319.2h3v2h-3zM170.2,318.4h3v2h-3zM174.8,315.9h3v2h-3zM179.4,314.5h3v2h-3zM184.1,313.4h3v2h-3zM188.7,312.2h3v2h-3zM193.3,311.4h3v2h-3zM197.9,310.9h3v2h-3zM202.5,310.3h3v2h-3zM207.1,309.7h3v2h-3zM211.7,309.2h3v2h-3zM216.3,308.6h3v2h-3zM220.9,307.8h3v2h-3zM225.6,306.7h3v2h-3zM230.2,305.5h3v2h-3zM234.8,304.4h3v2h-3zM239.4,303.2h3v2h-3zM244.0,302.1h3v2h-3zM248.6,300.9h3v2h-3zM253.2,300.3h3v2h-3zM257.8,299.7h3v2h-3zM262.4,299.1h3v2h-3zM267.1,298.6h3v2h-3zM271.7,298.2h3v2h-3zM276.3,297.7h3v2h-3zM280.9,296.9h3v2h-3zM285.5,295.8h3v2h-3zM290.1,294.7h3v2h-3zM294.7,293.6h3v2h-3zM299.3,292.5h3v2h-3zM303.9,291.9h3v2h-3zM308.6,291.2h3v2h-3zM313.2,290.5h3v2h-3zM317.8,289.8h3v2h-3zM322.4,289.1h3v2h-3zM327.0,288.6h3v2h-3zM331.6,288.0h3v2h-3zM336.2,287.5h3v2h-3zM340.8,286.8h3v2h-3zM345.4,285.5h3v2h-3zM350.1,284.2h3v2h-3zM354.7,282.9h3v2h-3zM359.3,281.6h3v2h-3zM363.9,280.9h3v2h-3zM368.5,280.3h3v2h-3zM373.1,279.8h3v2h-3zM377.7,279.2h3v2h-3zM382.3,278.6h3v2h-3zM386.9,278.0h3v2h-3zM391.6,277.5h3v2h-3zM396.2,276.9h3v2h-3zM400.8,276.3h3v2h-3zM405.4,275.4h3v2h-3zM410.0,274.5h3v2h-3zM414.6,273.6h3v2h-3zM419.2,272.6h3v2h-3zM423.8,272.0h3v2h-3zM428.4,271.7h3v2h-3zM433.1,271.3h3v2h-3zM437.7,270.7h3v2h-3zM442.3,270.1h3v2h-3zM446.9,269.4h3v2h-3zM451.5,268.8h3v2h-3zM456.1,268.2h3v2h-3zM460.7,267.5h3v2h-3zM465.3,266.8h3v2h-3zM469.9,266.1h3v2h-3zM474.6,265.4h3v2h-3zM479.2,264.5h3v2h-3zM483.8,263.4h3v2h-3zM488.4,262.2h3v2h-3zM493.0,261.1h3v2h-3zM497.6,259.9h3v2h-3zM502.2,258.8h3v2h-3zM506.8,257.6h3v2h-3zM511.4,256.5h3v2h-3zM516.1,255.3h3v2h-3zM520.7,254.1h3v2h-3zM525.3,253.4h3v2h-3zM529.9,252.8h3v2h-3zM534.5,252.3h3v2h-3zM539.1,251.7h3v2h-3zM543.7,251.2h3v2h-3zM548.3,250.9h3v2h-3zM552.9,250.7h3v2h-3zM557.6,250.5h3v2h-3zM562.2,249.4h3v2h-3zM566.8,248.0h3v2h-3zM571.4,246.7h3v2h-3zM576.0,245.3h3v2h-3zM580.6,243.9h3v2h-3zM585.2,243.5h3v2h-3zM589.8,243.3h3v2h-3zM594.4,243.1h3v2h-3zM599.1,242.8h3v2h-3zM603.7,242.6h3v2h-3zM608.3,242.0h3v2h-3zM612.9,241.3h3v2h-3zM617.5,240.5h3v2h-3zM622.1,239.8h3v2h-3zM626.7,239.1h3v2h-3zM631.3,238.7h3v2h-3zM635.9,238.2h3v2h-3zM640.6,237.8h3v2h-3zM645.2,237.3h3v2h-3zM649.8,236.9h3v2h-3zM654.4,236.4h3v2h-3zM659.0,236.0h3v2h-3zM663.6,235.5h3v2h-3zM668.2,235.0h3v2h-3zM672.8,234.5h3v2h-3zM677.4,233.8h3v2h-3zM682.1,233.2h3v2h-3zM686.7,232.5h3v2h-3zM691.3,231.8h3v2h-3zM695.9,231.2h3v2h-3zM700.5,231.2h3v2h-3zM705.1,231.1h3v2h-3zM709.7,231.1h3v2h-3zM714.3,231.0h3v2h-3zM718.9,230.8h3v2h-3zM723.6,230.0h3v2h-3zM728.2,229.2h3v2h-3zM732.8,229.0h3v2h-3zM737.4,228.8h3v2h-3zM742.0,228.5h3v2h-3zM746.6,227.8h3v2h-3zM751.2,227.2h3v2h-3zM755.8,226.6h3v2h-3zM760.4,226.1h3v2h-3zM765.1,225.7h3v2h-3zM769.7,225.3h3v2h-3zM774.3,224.9h3v2h-3zM778.9,224.5h3v2h-3zM783.5,224.2h3v2h-3zM788.1,223.8h3v2h-3zM792.7,223.4h3v2h-3zM797.3,222.8h3v2h-3zM801.9,222.3h3v2h-3zM806.6,221.7h3v2h-3zM811.2,221.0h3v2h-3zM815.8,220.9h3v2h-3zM820.4,220.9h3v2h-3z"/><polyline fill="none" stroke="#E23CC4" stroke-width="2.8" stroke-linejoin="round" stroke-linecap="round" stroke-dasharray="0.6 3.4" points="66.0,349.0 66.9,345.2 67.6,336.4 68.4,329.5 69.3,329.1 70.2,328.5 71.0,327.9 72.0,326.5 72.8,325.6 73.6,323.8 74.6,321.7 75.5,321.1 76.4,319.5 77.0,319.6 78.0,318.0 78.7,316.7 79.7,317.5 80.6,318.8 81.3,319.6 82.2,320.8 83.1,320.3 83.9,321.1 84.8,322.1 85.4,321.2 86.3,322.3 87.1,323.0 88.0,325.1 88.8,326.2 89.8,326.1 90.7,325.1 91.5,325.7 92.5,323.2 93.4,322.3 94.1,323.0 95.0,320.8 95.8,319.9 96.6,320.0 97.4,317.2 98.5,315.6 99.4,313.7 100.3,313.4 101.1,311.8 101.8,311.9 102.8,311.5 103.5,312.1 104.3,311.1 105.3,311.7 106.2,312.9 107.0,311.6 108.0,312.9 109.0,312.4 110.0,313.9 110.8,313.1 111.8,313.7 112.5,313.7 113.4,313.3 114.3,314.1 115.3,314.6 116.1,316.4 117.1,315.8 118.0,316.5 118.8,317.6 119.9,319.4 120.5,316.0 121.3,314.6 121.9,314.5 122.9,311.4 124.0,308.9 125.0,306.9 125.7,308.4 126.6,307.2 127.6,307.7 128.4,306.8 129.1,306.4 130.0,306.7 131.0,305.0 131.8,304.3 132.5,304.8 133.4,304.6 134.3,303.6 134.9,303.9 135.6,303.4 136.6,304.0 137.6,302.2 138.5,301.9 139.3,301.3 140.5,299.3 141.4,298.4 142.2,297.5 143.1,296.3 144.3,293.8 145.2,292.0 146.2,291.0 147.1,289.9 148.1,289.6 148.9,291.6 150.0,291.6 150.9,291.3 152.0,292.0 153.1,294.3 154.1,295.0 154.9,292.9 155.9,292.0 156.7,291.8 157.6,290.2 158.4,291.5 159.4,292.0 160.4,292.0 161.4,293.1 162.4,292.9 163.3,294.0 164.4,292.8 165.1,291.7 166.0,291.3 167.1,290.4 167.8,289.0 168.8,288.3 169.7,288.5 170.6,286.9 171.6,286.0 172.6,283.8 173.5,283.3 174.4,280.9 175.5,278.1 176.4,277.9 177.4,276.1 178.4,273.7 179.3,273.1 180.5,271.5 181.3,271.8 182.2,269.9 183.3,269.7 184.0,268.3 184.9,266.2 186.1,265.1 187.1,265.8 188.0,265.0 189.0,263.4 189.9,262.5 191.0,263.0 191.9,261.1 192.8,260.5 193.8,260.7 194.8,259.8 195.6,259.2 196.4,258.0 197.3,256.7 198.1,258.6 199.0,259.2 200.1,259.0 200.9,258.9 201.6,259.4 202.5,260.0 203.6,260.7 204.4,261.7 205.2,262.5 206.0,264.8 206.8,265.1 207.6,266.3 208.5,265.1 209.3,265.9 210.3,264.6 211.4,264.4 212.3,264.4 213.2,262.7 214.2,263.1 215.2,262.9 216.1,263.1 217.0,262.8 218.1,261.1 219.1,262.2 220.1,260.5 220.8,259.4 221.8,260.2 222.8,257.8 223.7,257.3 224.7,258.0 225.7,256.1 226.5,255.6 227.6,256.5 228.4,256.2 229.3,255.3 230.2,254.1 231.2,254.7 232.0,254.4 232.9,253.9 233.7,252.3 234.6,252.4 235.7,250.7 236.6,249.8 237.5,250.4 238.3,250.0 239.3,247.8 240.1,247.5 241.0,248.6 241.7,246.7 242.7,248.7 243.6,248.6 244.2,249.6 245.2,250.7 246.2,249.4 247.3,248.0 248.2,246.0 248.9,246.1 249.9,245.1 250.9,242.6 251.7,243.4 252.6,242.6 253.4,242.4 254.4,241.8 255.2,240.9 256.2,239.8 256.9,240.3 258.0,239.8 258.8,239.9 259.8,242.1 260.6,241.4 261.3,241.0 262.4,242.6 263.3,242.0 264.1,240.1 265.0,239.5 265.9,239.9 266.7,239.3 267.7,236.7 268.6,237.2 269.4,235.3 270.4,235.7 271.1,234.5 271.8,233.6 272.8,233.6 273.6,232.5 274.7,233.2 275.6,232.8 276.4,234.2 277.1,235.3 278.1,234.5 278.9,236.6 279.8,236.1 280.8,236.6 281.7,235.6 282.5,236.2 283.4,235.8 284.2,235.4 285.3,234.7 286.1,234.9 286.8,233.3 287.9,233.0 288.6,232.7 289.7,232.6 290.5,231.4 291.2,232.0 292.1,231.6 293.0,230.0 293.8,230.1 294.8,229.0 295.6,228.0 296.5,228.1 297.4,228.1 298.4,227.7 299.3,226.3 300.0,226.7 301.0,225.3 301.5,224.5 302.5,225.8 303.2,225.2 304.2,226.1 305.2,225.3 306.0,226.1 306.7,227.3 307.7,227.4 308.5,228.3 309.4,228.9 310.2,229.0 311.2,229.3 312.2,229.5 313.0,228.8 313.9,228.4 314.6,228.1 315.7,228.0 316.4,228.1 317.4,228.4 318.3,228.0 319.1,228.4 320.1,227.1 320.9,227.1 321.7,227.0 322.8,226.0 323.6,225.3 324.6,225.1 325.3,225.4 326.2,225.3 327.1,224.2 327.9,223.8 328.9,222.4 329.9,222.0 330.6,222.6 331.5,221.5 332.3,222.4 333.1,221.7 334.1,220.5 335.0,221.2 335.9,222.3 336.7,221.5 337.5,223.1 338.5,221.9 339.4,222.4 340.2,223.9 341.1,223.8 342.1,224.1 343.0,224.7 343.7,224.7 344.6,225.2 345.6,224.3 346.3,225.3 347.2,223.0 348.2,222.4 348.9,221.9 349.9,222.4 350.8,222.5 351.6,220.5 352.6,219.7 353.3,220.1 354.4,220.6 355.1,220.7 356.0,221.6 357.0,220.8 357.7,222.0 358.7,221.5 359.5,222.3 360.5,222.1 361.4,221.3 362.0,221.8 363.2,219.9 363.8,221.0 364.9,219.9 365.8,219.1 366.6,219.3 367.4,219.1 368.3,218.7 369.3,216.6 370.1,217.1 370.9,216.6 371.7,215.0 372.8,214.7 373.6,214.5 374.6,214.4 375.5,213.5 376.3,213.6 377.3,213.1 378.3,211.2 379.0,209.8 379.9,207.6 380.9,205.4 381.8,204.1 382.6,203.0 383.7,201.8 384.3,203.2 385.1,203.8 385.9,204.9 386.6,207.5 387.6,205.6 388.5,204.0 389.4,201.7 390.1,201.4 391.0,199.1 391.8,198.3 392.9,198.1 393.6,196.4 394.6,195.1 395.5,196.0 396.6,193.8 397.4,192.7 398.3,191.8 399.2,192.1 400.2,191.2 401.1,189.8 401.9,189.5 402.7,190.8 403.6,189.3 404.6,188.8 405.7,189.6 406.4,189.0 407.5,187.8 408.3,189.1 409.2,188.2 410.0,186.7 410.8,186.2 411.7,186.2 412.5,184.0 413.5,183.8 414.2,183.6 414.9,181.1 415.8,179.8 416.5,179.0 417.4,176.2 418.3,177.8 419.1,179.7 419.8,181.7 420.6,183.4 421.5,184.0 422.2,185.1 423.1,186.3 424.0,186.3 424.7,189.0 425.5,189.6 426.6,188.9 427.2,187.7 428.4,185.6 429.0,186.4 430.1,185.2 431.0,184.1 431.7,182.3 432.5,183.6 433.6,184.6 434.4,183.1 435.3,185.0 436.1,185.2 437.2,185.3 437.9,185.6 438.9,185.0 439.8,183.6 440.9,183.1 441.9,182.3 442.8,182.9 443.8,183.1 444.7,181.3 445.7,181.4 446.7,181.6 447.6,180.4 448.7,179.4 449.5,179.6 450.6,180.0 451.6,179.4 452.3,179.5 453.2,177.4 454.3,177.0 455.1,177.1 456.3,177.1 457.2,178.3 457.9,176.4 458.9,177.3 459.9,176.5 460.9,175.9 461.6,176.3 462.7,177.1 463.8,176.9 464.7,176.0 465.5,174.6 466.5,176.0 467.5,174.8 468.4,175.1 469.4,174.6 470.2,174.8 471.3,173.2 472.2,174.1 472.9,174.4 473.9,174.2 475.0,175.2 475.8,176.2 476.8,175.8 477.8,176.0 478.9,175.0 479.9,174.8 480.8,173.8 481.9,172.9 482.8,172.2 483.7,172.5 484.9,174.8 485.7,174.8 486.9,174.8 487.7,176.9 488.7,175.1 489.7,174.4 490.5,173.2 491.7,173.9 492.4,171.8 493.4,171.8 494.5,170.7 495.2,170.9 496.1,169.4 497.1,170.3 498.3,169.0 499.1,169.4 500.0,169.3 500.9,168.8 501.8,167.3 502.7,167.1 503.9,166.7 504.7,165.8 505.8,166.8 506.7,166.8 507.4,165.8 508.4,165.7 509.3,164.0 510.4,163.8 511.4,163.4 512.3,163.6 513.2,165.5 513.8,164.4 514.7,164.9 515.6,165.5 516.6,166.4 517.4,167.6 518.4,166.8 519.4,167.2 520.3,167.8 521.1,168.1 522.0,166.6 522.8,168.1 523.9,167.8 524.9,167.5 525.8,166.3 526.8,167.2 527.7,165.6 528.6,166.5 529.6,164.9 530.3,165.3 531.2,165.4 532.2,164.7 533.3,165.9 534.0,165.9 535.0,165.9 536.1,166.9 536.8,165.3 538.0,165.7 539.0,167.4 539.9,168.2 540.9,169.4 542.0,169.0 542.8,170.1 543.8,172.2 544.9,173.6 545.9,175.4 546.7,178.2 547.7,180.6 548.6,181.4 549.6,183.4 550.4,185.7 551.4,189.4 552.1,195.2 552.9,196.6 553.6,198.0 554.7,200.3 555.5,199.7 556.4,199.7 557.4,199.6 558.4,197.7 559.1,197.3 560.2,195.9 560.9,195.0 562.0,195.3 562.7,195.1 563.9,191.6 564.8,189.9 565.5,188.6 566.8,187.4 567.5,185.9 568.5,183.8 569.6,181.5 570.6,179.5 571.6,178.0 572.6,175.9 573.5,173.3 574.4,173.8 575.3,171.8 576.2,170.4 577.0,169.8 577.9,168.7 578.9,167.6 579.8,166.6 580.8,165.9 581.5,164.3 582.4,162.1 583.3,161.0 584.2,160.5 585.1,158.2 586.1,160.9 587.0,161.3 588.1,162.3 589.2,163.9 590.2,163.5 591.1,162.1 591.9,162.2 592.8,160.6 593.6,159.7 594.2,159.6 595.1,158.0 596.1,157.3 597.0,157.1 597.9,154.6 598.8,155.7 599.7,153.9 600.5,153.8 601.5,151.7 602.2,151.5 603.1,151.1 604.1,149.5 605.0,150.0 605.9,147.6 606.8,147.6 607.6,146.7 608.6,144.9 609.5,144.4 610.4,144.2 611.2,144.1 612.2,142.8 613.2,142.9 614.0,142.7 614.9,141.5 615.6,141.4 616.8,141.8 617.4,141.4 618.4,140.3 619.4,141.3 620.3,140.2 621.2,140.7 621.9,139.8 622.8,140.1 623.9,139.8 624.7,139.8 625.6,138.4 626.5,138.4 627.5,137.8 628.4,138.4 629.1,139.0 630.1,137.4 631.0,137.9 631.9,137.5 632.7,138.4 633.6,136.6 634.6,137.6 635.4,137.9 636.5,137.0 637.3,137.6 638.0,136.0 639.1,136.0 640.0,136.6 640.8,136.3 641.8,136.5 642.6,134.8 643.4,134.7 644.5,134.6 645.2,134.7 646.1,135.7 647.2,134.1 648.0,135.3 648.8,136.0 649.9,134.2 650.6,136.0 651.7,134.4 652.4,135.2 653.3,133.8 654.3,134.4 655.0,133.6 656.0,132.9 656.8,133.7 657.7,131.7 658.7,131.2 659.5,131.3 660.5,131.8 661.3,129.8 662.3,129.8 663.1,128.5 664.2,129.2 664.9,127.6 665.8,127.5 666.9,127.7 667.8,127.2 668.6,125.2 669.4,124.7 670.5,124.9 671.4,124.5 672.1,125.0 673.0,125.3 673.9,124.1 674.8,124.5 675.7,123.6 676.7,124.0 677.4,124.4 678.4,123.3 679.2,124.4 680.1,124.1 681.0,123.6 682.0,123.2 682.8,123.6 683.8,122.6 684.7,122.7 685.7,121.9 686.4,121.5 687.5,122.3 688.4,122.0 689.3,120.9 690.0,122.0 691.0,121.5 692.0,122.9 693.2,122.3 694.0,124.2 695.1,124.8 695.9,123.6 696.9,122.6 698.0,121.8 699.0,120.9 700.1,120.5 701.0,120.4 702.0,120.5 703.1,120.9 704.1,120.4 704.9,120.6 705.9,120.4 707.1,119.0 708.1,119.7 709.0,118.6 709.9,117.9 710.9,119.1 711.9,121.1 712.9,122.0 714.0,121.1 714.9,123.5 715.9,122.1 717.0,121.2 717.9,121.1 719.0,120.4 719.9,119.3 721.0,119.7 722.1,120.6 723.0,120.8 724.1,121.7 725.1,121.3 726.0,121.2 727.0,121.4 728.1,122.3 729.0,122.7 730.1,122.1 731.1,122.3 732.0,121.2 733.1,119.4 734.1,119.3 735.0,119.4 735.9,117.5 737.0,117.8 738.1,117.6 739.1,117.5 740.1,118.1 741.1,118.5 742.1,119.3 743.0,119.8 743.9,118.7 745.1,120.1 746.0,119.8 746.9,122.1 747.9,123.0 749.1,123.5 749.9,124.2 751.1,122.1 752.0,121.4 753.1,120.8 754.1,121.3 755.1,120.9 756.1,118.9 757.1,119.2 758.1,119.0 758.9,119.1 760.0,119.1 761.0,118.4 762.0,119.2 763.0,118.6 764.1,117.4 764.9,117.6 766.0,116.7 767.0,116.5 768.0,116.3 769.1,116.2 770.1,116.0 771.0,115.4 772.1,116.6 772.9,115.9 774.1,116.7 774.9,118.2 776.1,117.9 777.1,117.3 778.0,117.9 778.9,117.5 780.0,117.8 781.0,118.8 782.1,118.7 783.0,117.8 784.0,116.9 784.9,117.2 786.1,116.9 787.0,116.3 787.9,117.6 789.1,117.5 790.0,115.7 791.0,116.0 791.9,116.4 793.1,117.5 793.9,117.9 795.1,116.8 795.9,118.0 796.9,119.5 797.9,119.3 798.9,119.7 799.9,119.5 801.0,120.0 802.1,121.7 802.9,121.3 804.0,122.8 804.9,121.9 805.9,123.6 806.9,123.6 808.1,124.1 809.0,123.2 809.9,123.7 811.1,122.9 812.1,123.5 812.9,121.8 814.0,121.2 814.9,121.0 816.0,120.7 817.0,121.2 818.1,120.8 819.1,119.4 820.0,120.0 820.9,118.4 822.0,118.8"/><line x1="859" y1="23.5" x2="862" y2="23.5" stroke="#E4E4E4" stroke-width="1"/><line x1="859" y1="48.6" x2="862" y2="48.6" stroke="#E4E4E4" stroke-width="1"/><line x1="859" y1="73.8" x2="862" y2="73.8" stroke="#E4E4E4" stroke-width="1"/><line x1="859" y1="98.9" x2="862" y2="98.9" stroke="#E4E4E4" stroke-width="1"/><line x1="859" y1="124.1" x2="862" y2="124.1" stroke="#E4E4E4" stroke-width="1"/><line x1="859" y1="149.2" x2="862" y2="149.2" stroke="#E4E4E4" stroke-width="1"/><line x1="859" y1="174.4" x2="862" y2="174.4" stroke="#E4E4E4" stroke-width="1"/><line x1="859" y1="199.5" x2="862" y2="199.5" stroke="#E4E4E4" stroke-width="1"/><line x1="859" y1="224.7" x2="862" y2="224.7" stroke="#E4E4E4" stroke-width="1"/><line x1="859" y1="249.8" x2="862" y2="249.8" stroke="#E4E4E4" stroke-width="1"/><line x1="859" y1="275.0" x2="862" y2="275.0" stroke="#E4E4E4" stroke-width="1"/><line x1="859" y1="300.1" x2="862" y2="300.1" stroke="#E4E4E4" stroke-width="1"/><line x1="859" y1="325.3" x2="862" y2="325.3" stroke="#E4E4E4" stroke-width="1"/><line x1="859" y1="350.4" x2="862" y2="350.4" stroke="#E4E4E4" stroke-width="1"/><line x1="859" y1="375.6" x2="862" y2="375.6" stroke="#E4E4E4" stroke-width="1"/><line x1="859" y1="400.8" x2="862" y2="400.8" stroke="#E4E4E4" stroke-width="1"/><rect x="66" y="12" width="774" height="397" fill="none" stroke="#000" stroke-width="2"/><line x1="59" y1="409.00" x2="72" y2="409.00" stroke="#000" stroke-width="2"/><line x1="59" y1="210.00" x2="72" y2="210.00" stroke="#000" stroke-width="2"/><line x1="59" y1="12.00" x2="72" y2="12.00" stroke="#000" stroke-width="2"/><line x1="61" y1="348.75" x2="66" y2="348.75" stroke="#000" stroke-width="2"/><line x1="61" y1="313.79" x2="66" y2="313.79" stroke="#000" stroke-width="2"/><line x1="61" y1="288.99" x2="66" y2="288.99" stroke="#000" stroke-width="2"/><line x1="61" y1="269.75" x2="66" y2="269.75" stroke="#000" stroke-width="2"/><line x1="61" y1="254.04" x2="66" y2="254.04" stroke="#000" stroke-width="2"/><line x1="61" y1="240.75" x2="66" y2="240.75" stroke="#000" stroke-width="2"/><line x1="61" y1="229.24" x2="66" y2="229.24" stroke="#000" stroke-width="2"/><line x1="61" y1="219.08" x2="66" y2="219.08" stroke="#000" stroke-width="2"/><line x1="61" y1="150.25" x2="66" y2="150.25" stroke="#000" stroke-width="2"/><line x1="61" y1="115.29" x2="66" y2="115.29" stroke="#000" stroke-width="2"/><line x1="61" y1="90.49" x2="66" y2="90.49" stroke="#000" stroke-width="2"/><line x1="61" y1="71.25" x2="66" y2="71.25" stroke="#000" stroke-width="2"/><line x1="61" y1="55.54" x2="66" y2="55.54" stroke="#000" stroke-width="2"/><line x1="61" y1="42.25" x2="66" y2="42.25" stroke="#000" stroke-width="2"/><line x1="61" y1="30.74" x2="66" y2="30.74" stroke="#000" stroke-width="2"/><line x1="61" y1="20.58" x2="66" y2="20.58" stroke="#000" stroke-width="2"/><line x1="91" y1="29.3" x2="144" y2="29.3" stroke="#9BC31E" stroke-width="3"/><line x1="91" y1="52.3" x2="144" y2="52.3" stroke="#F49AA0" stroke-width="3"/><line x1="91" y1="75.3" x2="144" y2="75.3" stroke="#FFCC00" stroke-width="3"/><line x1="91" y1="98.3" x2="144" y2="98.3" stroke="#979797" stroke-width="3"/><line x1="91" y1="121.3" x2="144" y2="121.3" stroke="#0A820A" stroke-width="3"/><path fill="#B8460F" stroke="#8A2E0C" stroke-width="0.6" d="M117.3,141.9l2.4,4.4h-4.8z"/><rect x="116.8" y="166.3" width="3" height="2" fill="#CC0A1E"/><circle cx="92.40" cy="190.3" r="1.5" fill="#DC44BC"/><circle cx="98.41" cy="190.3" r="1.5" fill="#DC44BC"/><circle cx="104.42" cy="190.3" r="1.5" fill="#DC44BC"/><circle cx="110.43" cy="190.3" r="1.5" fill="#DC44BC"/><circle cx="116.44" cy="190.3" r="1.5" fill="#DC44BC"/><circle cx="122.45" cy="190.3" r="1.5" fill="#DC44BC"/><circle cx="128.46" cy="190.3" r="1.5" fill="#DC44BC"/><circle cx="134.47" cy="190.3" r="1.5" fill="#DC44BC"/><circle cx="140.48" cy="190.3" r="1.5" fill="#DC44BC"/><text x="2.62" y="16.60" font-size="17.50" fill="#000" stroke="#000" stroke-width="0.45" style="font-family:'Liberation Sans',sans-serif;font-weight:bold" textLength="43.50" lengthAdjust="spacingAndGlyphs">5 000</text><text x="16.98" y="215.50" font-size="17.50" fill="#000" stroke="#000" stroke-width="0.45" style="font-family:'Liberation Sans',sans-serif;font-weight:bold" textLength="29.78" lengthAdjust="spacingAndGlyphs">500</text><text x="27.50" y="414.60" font-size="17.50" fill="#000" stroke="#000" stroke-width="0.45" style="font-family:'Liberation Sans',sans-serif;font-weight:bold" textLength="19.64" lengthAdjust="spacingAndGlyphs">50</text><text x="45.49" y="434.50" font-size="17.50" fill="#000" stroke="#000" stroke-width="0.45" style="font-family:'Liberation Sans',sans-serif;font-weight:bold" textLength="39.28" lengthAdjust="spacingAndGlyphs">2000</text><text x="101.12" y="434.50" font-size="17.50" fill="#000" stroke="#000" stroke-width="0.45" style="font-family:'Liberation Sans',sans-serif;font-weight:bold" textLength="38.38" lengthAdjust="spacingAndGlyphs">2001</text><text x="156.75" y="434.50" font-size="17.50" fill="#000" stroke="#000" stroke-width="0.45" style="font-family:'Liberation Sans',sans-serif;font-weight:bold" textLength="38.38" lengthAdjust="spacingAndGlyphs">2002</text><text x="211.49" y="434.50" font-size="17.50" fill="#000" stroke="#000" stroke-width="0.45" style="font-family:'Liberation Sans',sans-serif;font-weight:bold" textLength="39.28" lengthAdjust="spacingAndGlyphs">2003</text><text x="267.12" y="434.50" font-size="17.50" fill="#000" stroke="#000" stroke-width="0.45" style="font-family:'Liberation Sans',sans-serif;font-weight:bold" textLength="38.38" lengthAdjust="spacingAndGlyphs">2004</text><text x="322.75" y="434.50" font-size="17.50" fill="#000" stroke="#000" stroke-width="0.45" style="font-family:'Liberation Sans',sans-serif;font-weight:bold" textLength="38.38" lengthAdjust="spacingAndGlyphs">2005</text><text x="377.49" y="434.50" font-size="17.50" fill="#000" stroke="#000" stroke-width="0.45" style="font-family:'Liberation Sans',sans-serif;font-weight:bold" textLength="39.28" lengthAdjust="spacingAndGlyphs">2006</text><text x="433.12" y="434.50" font-size="17.50" fill="#000" stroke="#000" stroke-width="0.45" style="font-family:'Liberation Sans',sans-serif;font-weight:bold" textLength="38.38" lengthAdjust="spacingAndGlyphs">2007</text><text x="488.75" y="434.50" font-size="17.50" fill="#000" stroke="#000" stroke-width="0.45" style="font-family:'Liberation Sans',sans-serif;font-weight:bold" textLength="38.38" lengthAdjust="spacingAndGlyphs">2008</text><text x="543.49" y="434.50" font-size="17.50" fill="#000" stroke="#000" stroke-width="0.45" style="font-family:'Liberation Sans',sans-serif;font-weight:bold" textLength="39.28" lengthAdjust="spacingAndGlyphs">2009</text><text x="599.12" y="434.50" font-size="17.50" fill="#000" stroke="#000" stroke-width="0.45" style="font-family:'Liberation Sans',sans-serif;font-weight:bold" textLength="38.38" lengthAdjust="spacingAndGlyphs">2010</text><text x="654.75" y="434.50" font-size="17.50" fill="#000" stroke="#000" stroke-width="0.45" style="font-family:'Liberation Sans',sans-serif;font-weight:bold" textLength="38.38" lengthAdjust="spacingAndGlyphs">2011</text><text x="709.49" y="434.50" font-size="17.50" fill="#000" stroke="#000" stroke-width="0.45" style="font-family:'Liberation Sans',sans-serif;font-weight:bold" textLength="39.28" lengthAdjust="spacingAndGlyphs">2012</text><text x="765.12" y="434.50" font-size="17.50" fill="#000" stroke="#000" stroke-width="0.45" style="font-family:'Liberation Sans',sans-serif;font-weight:bold" textLength="38.38" lengthAdjust="spacingAndGlyphs">2013</text><text x="820.75" y="434.50" font-size="17.50" fill="#000" stroke="#000" stroke-width="0.45" style="font-family:'Liberation Sans',sans-serif;font-weight:bold" textLength="37.48" lengthAdjust="spacingAndGlyphs">2014</text><text x="410.34" y="51.60" font-size="20.50" fill="#000" stroke="#000" stroke-width="0.45" style="font-family:'Liberation Sans',sans-serif;font-weight:bold" textLength="360.56" lengthAdjust="spacingAndGlyphs">1 января 2000 г. - 31 августа 2013 г.</text><text x="490.36" y="74.60" font-size="14.80" fill="#000" stroke="#000" stroke-width="0.45" style="font-family:'Liberation Sans',sans-serif;font-weight:bold" textLength="199.64" lengthAdjust="spacingAndGlyphs">31 декабря 1999 г. = 100%</text><text x="156.38" y="34.50" font-size="14.60" fill="#000" stroke="#000" stroke-width="0.45" style="font-family:'Liberation Sans',sans-serif;font-weight:bold" textLength="98.86" lengthAdjust="spacingAndGlyphs">Доллар США</text><text x="156.48" y="57.50" font-size="14.60" fill="#000" stroke="#000" stroke-width="0.45" style="font-family:'Liberation Sans',sans-serif;font-weight:bold" textLength="36.90" lengthAdjust="spacingAndGlyphs">Евро</text><text x="156.24" y="80.50" font-size="14.60" fill="#000" stroke="#000" stroke-width="0.45" style="font-family:'Liberation Sans',sans-serif;font-weight:bold" textLength="53.50" lengthAdjust="spacingAndGlyphs">Золото</text><text x="156.62" y="103.50" font-size="14.60" fill="#000" stroke="#000" stroke-width="0.45" style="font-family:'Liberation Sans',sans-serif;font-weight:bold" textLength="67.02" lengthAdjust="spacingAndGlyphs">Серебро</text><text x="156.48" y="126.50" font-size="14.60" fill="#000" stroke="#000" stroke-width="0.45" style="font-family:'Liberation Sans',sans-serif;font-weight:bold" textLength="113.52" lengthAdjust="spacingAndGlyphs">Индекс ММВБ</text><text x="155.88" y="149.50" font-size="14.60" fill="#000" stroke="#000" stroke-width="0.45" style="font-family:'Liberation Sans',sans-serif;font-weight:bold" textLength="130.62" lengthAdjust="spacingAndGlyphs">Жильё в Москве</text><text x="156.48" y="172.50" font-size="14.60" fill="#000" stroke="#000" stroke-width="0.45" style="font-family:'Liberation Sans',sans-serif;font-weight:bold" textLength="80.42" lengthAdjust="spacingAndGlyphs">Инфляция</text><text x="156.48" y="195.50" font-size="14.60" fill="#000" stroke="#000" stroke-width="0.45" style="font-family:'Liberation Sans',sans-serif;font-weight:bold" textLength="158.78" lengthAdjust="spacingAndGlyphs">Портфель лежебоки</text></svg></body></html>
